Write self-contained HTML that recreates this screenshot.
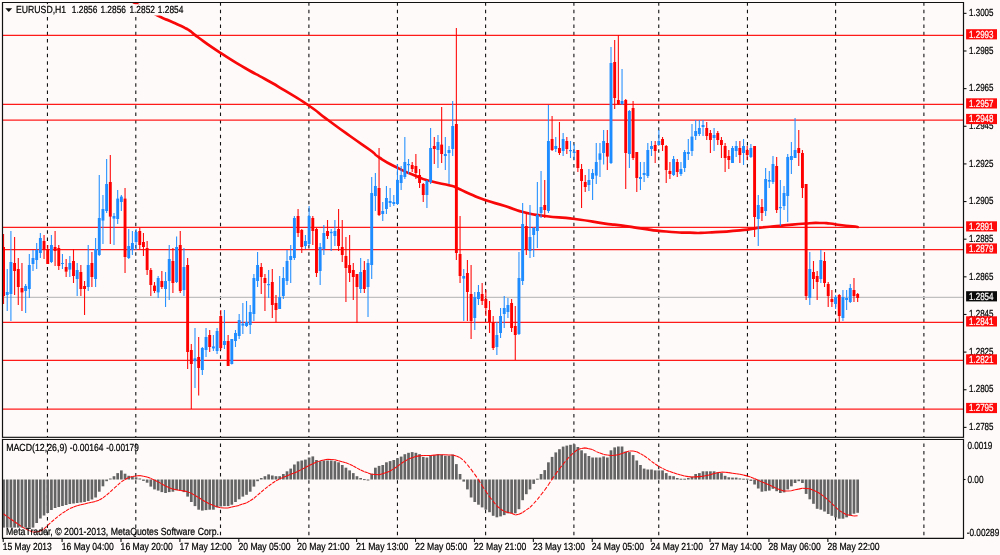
<!DOCTYPE html>
<html lang="en"><head><meta charset="utf-8"><title>EURUSD,H1</title>
<style>html,body{margin:0;padding:0;background:#fefaf9;}body{width:1000px;height:555px;overflow:hidden;}svg{will-change:transform;}svg text{text-rendering:geometricPrecision;}</style></head>
<body>
<svg width="1000" height="555" viewBox="0 0 1000 555" style="display:block">
<rect width="1000" height="555" fill="#fefaf9"/>
<defs><clipPath id="cm"><rect x="2.5" y="2.5" width="961.0" height="434.8"/></clipPath><clipPath id="ci"><rect x="2.5" y="439.4" width="961.0" height="99.0"/></clipPath></defs>
<g stroke="#141414" stroke-width="1.1" stroke-dasharray="3.5 3.85" fill="none">
<line x1="47.45" y1="2.35" x2="47.45" y2="437.3"/>
<line x1="47.45" y1="443.6" x2="47.45" y2="538.4"/>
<line x1="135.8" y1="2.35" x2="135.8" y2="437.3"/>
<line x1="135.8" y1="443.6" x2="135.8" y2="538.4"/>
<line x1="220.5" y1="2.35" x2="220.5" y2="437.3"/>
<line x1="220.5" y1="443.6" x2="220.5" y2="538.4"/>
<line x1="308.9" y1="2.35" x2="308.9" y2="437.3"/>
<line x1="308.9" y1="443.6" x2="308.9" y2="538.4"/>
<line x1="397.45" y1="2.35" x2="397.45" y2="437.3"/>
<line x1="397.45" y1="443.6" x2="397.45" y2="538.4"/>
<line x1="485.6" y1="2.35" x2="485.6" y2="437.3"/>
<line x1="485.6" y1="443.6" x2="485.6" y2="538.4"/>
<line x1="573.9" y1="2.35" x2="573.9" y2="437.3"/>
<line x1="573.9" y1="443.6" x2="573.9" y2="538.4"/>
<line x1="658.75" y1="2.35" x2="658.75" y2="437.3"/>
<line x1="658.75" y1="443.6" x2="658.75" y2="538.4"/>
<line x1="747.45" y1="2.35" x2="747.45" y2="437.3"/>
<line x1="747.45" y1="443.6" x2="747.45" y2="538.4"/>
<line x1="835.6" y1="2.35" x2="835.6" y2="437.3"/>
<line x1="835.6" y1="443.6" x2="835.6" y2="538.4"/>
<line x1="923.9" y1="2.35" x2="923.9" y2="437.3"/>
<line x1="923.9" y1="443.6" x2="923.9" y2="538.4"/>
</g>
<line x1="2.5" y1="297.3" x2="963.5" y2="297.3" stroke="#c0c0c0" stroke-width="1.2"/>
<g stroke="#ff1a1a" stroke-width="1.25">
<line x1="2.5" y1="35.30" x2="963.5" y2="35.30"/>
<line x1="2.5" y1="104.40" x2="963.5" y2="104.40"/>
<line x1="2.5" y1="120.00" x2="963.5" y2="120.00"/>
<line x1="2.5" y1="227.40" x2="963.5" y2="227.40"/>
<line x1="2.5" y1="249.50" x2="963.5" y2="249.50"/>
<line x1="2.5" y1="322.40" x2="963.5" y2="322.40"/>
<line x1="2.5" y1="360.40" x2="963.5" y2="360.40"/>
<line x1="2.5" y1="409.00" x2="963.5" y2="409.00"/>
</g>
<g clip-path="url(#cm)">
<path d="M126.00,-2.00 C129.00,-0.33 124.47,-2.83 135.00,3.00 C145.53,8.83 145.93,9.50 157.60,15.50 C169.27,21.50 162.53,17.67 170.00,21.00 C177.47,24.33 174.67,23.00 180.00,25.50 C185.33,28.00 182.17,26.33 186.00,28.50 C189.83,30.67 187.60,29.17 191.50,32.00 C195.40,34.83 188.20,30.13 197.70,37.00 C207.20,43.87 204.23,42.27 220.00,52.60 C235.77,62.93 230.00,59.20 245.00,68.00 C260.00,76.80 251.67,71.43 265.00,79.00 C278.33,86.57 270.67,82.03 285.00,90.70 C299.33,99.37 293.67,95.23 308.00,105.00 C322.33,114.77 314.00,109.67 328.00,120.00 C342.00,130.33 336.00,126.00 350.00,136.00 C364.00,146.00 360.00,142.67 370.00,150.00 C380.00,157.33 370.67,152.00 380.00,158.00 C389.33,164.00 386.00,162.00 398.00,168.00 C410.00,174.00 405.33,171.67 416.00,176.00 C426.67,180.33 418.67,177.83 430.00,181.00 C441.33,184.17 441.00,183.17 450.00,185.50 C459.00,187.83 450.33,185.17 457.00,188.00 C463.67,190.83 460.67,190.00 470.00,194.00 C479.33,198.00 473.33,196.00 485.00,200.00 C496.67,204.00 492.33,202.00 505.00,206.00 C517.67,210.00 509.67,208.67 523.00,212.00 C536.33,215.33 527.67,213.67 545.00,216.00 C562.33,218.33 555.00,216.47 575.00,219.00 C595.00,221.53 589.77,221.50 605.00,223.60 C620.23,225.70 608.80,223.73 620.70,225.30 C632.60,226.87 625.60,226.23 640.70,228.30 C655.80,230.37 649.57,230.03 666.00,231.50 C682.43,232.97 675.67,232.37 690.00,232.70 C704.33,233.03 692.33,233.27 709.00,232.50 C725.67,231.73 723.00,232.00 740.00,230.40 C757.00,228.80 746.67,229.20 760.00,227.70 C773.33,226.20 764.67,227.30 780.00,225.90 C795.33,224.50 792.67,224.47 806.00,223.50 C819.33,222.53 812.00,223.00 820.00,223.00 C828.00,223.00 823.33,222.83 830.00,223.50 C836.67,224.17 830.77,223.83 840.00,225.00 C849.23,226.17 851.80,226.33 857.70,227.00" fill="none" stroke="#f80808" stroke-width="2.7" stroke-linejoin="round" stroke-linecap="round"/>
<line x1="3.55" y1="234.0" x2="3.55" y2="304.0" stroke="#ff0000" stroke-width="1.1" stroke-opacity="0.95"/>
<rect x="2.10" y="247.0" width="2.9" height="49.00" fill="#ff0000"/>
<line x1="7.23" y1="269.0" x2="7.23" y2="311.0" stroke="#1e8cff" stroke-width="1.1" stroke-opacity="0.95"/>
<rect x="5.78" y="292.0" width="2.9" height="3.00" fill="#1e8cff"/>
<line x1="10.91" y1="231.0" x2="10.91" y2="321.0" stroke="#1e8cff" stroke-width="1.1" stroke-opacity="0.95"/>
<rect x="9.46" y="262.0" width="2.9" height="32.00" fill="#1e8cff"/>
<line x1="14.59" y1="237.0" x2="14.59" y2="295.0" stroke="#ff0000" stroke-width="1.1" stroke-opacity="0.95"/>
<rect x="13.14" y="263.0" width="2.9" height="8.00" fill="#ff0000"/>
<line x1="18.28" y1="258.0" x2="18.28" y2="305.0" stroke="#ff0000" stroke-width="1.1" stroke-opacity="0.95"/>
<rect x="16.83" y="269.0" width="2.9" height="18.00" fill="#ff0000"/>
<line x1="21.96" y1="263.0" x2="21.96" y2="311.0" stroke="#ff0000" stroke-width="1.1" stroke-opacity="0.95"/>
<rect x="20.51" y="288.0" width="2.9" height="4.40" fill="#ff0000"/>
<line x1="25.64" y1="284.0" x2="25.64" y2="313.0" stroke="#1e8cff" stroke-width="1.1" stroke-opacity="0.95"/>
<rect x="24.19" y="286.0" width="2.9" height="5.00" fill="#1e8cff"/>
<line x1="29.32" y1="254.0" x2="29.32" y2="298.0" stroke="#1e8cff" stroke-width="1.1" stroke-opacity="0.95"/>
<rect x="27.87" y="265.0" width="2.9" height="24.00" fill="#1e8cff"/>
<line x1="33.00" y1="250.0" x2="33.00" y2="271.0" stroke="#1e8cff" stroke-width="1.1" stroke-opacity="0.95"/>
<rect x="31.55" y="258.0" width="2.9" height="6.00" fill="#1e8cff"/>
<line x1="36.68" y1="243.0" x2="36.68" y2="269.0" stroke="#1e8cff" stroke-width="1.1" stroke-opacity="0.95"/>
<rect x="35.23" y="250.0" width="2.9" height="10.00" fill="#1e8cff"/>
<line x1="40.37" y1="233.0" x2="40.37" y2="258.0" stroke="#1e8cff" stroke-width="1.1" stroke-opacity="0.95"/>
<rect x="38.91" y="238.0" width="2.9" height="15.00" fill="#1e8cff"/>
<line x1="44.05" y1="235.0" x2="44.05" y2="259.0" stroke="#ff0000" stroke-width="1.1" stroke-opacity="0.95"/>
<rect x="42.60" y="241.0" width="2.9" height="9.00" fill="#ff0000"/>
<line x1="47.73" y1="245.0" x2="47.73" y2="264.0" stroke="#ff0000" stroke-width="1.1" stroke-opacity="0.95"/>
<rect x="46.28" y="249.0" width="2.9" height="15.00" fill="#ff0000"/>
<line x1="51.41" y1="235.0" x2="51.41" y2="263.0" stroke="#1e8cff" stroke-width="1.1" stroke-opacity="0.95"/>
<rect x="49.96" y="245.0" width="2.9" height="17.00" fill="#1e8cff"/>
<line x1="55.09" y1="231.0" x2="55.09" y2="266.0" stroke="#ff0000" stroke-width="1.1" stroke-opacity="0.95"/>
<rect x="53.64" y="247.0" width="2.9" height="4.00" fill="#ff0000"/>
<line x1="58.77" y1="245.0" x2="58.77" y2="270.0" stroke="#ff0000" stroke-width="1.1" stroke-opacity="0.95"/>
<rect x="57.32" y="248.0" width="2.9" height="18.00" fill="#ff0000"/>
<line x1="62.45" y1="254.0" x2="62.45" y2="269.0" stroke="#1e8cff" stroke-width="1.1" stroke-opacity="0.95"/>
<rect x="61.00" y="263.0" width="2.9" height="1.00" fill="#1e8cff"/>
<line x1="66.14" y1="259.0" x2="66.14" y2="277.0" stroke="#ff0000" stroke-width="1.1" stroke-opacity="0.95"/>
<rect x="64.69" y="267.0" width="2.9" height="4.60" fill="#ff0000"/>
<line x1="69.82" y1="256.0" x2="69.82" y2="277.0" stroke="#1e8cff" stroke-width="1.1" stroke-opacity="0.95"/>
<rect x="68.37" y="263.0" width="2.9" height="6.60" fill="#1e8cff"/>
<line x1="73.50" y1="249.0" x2="73.50" y2="283.0" stroke="#ff0000" stroke-width="1.1" stroke-opacity="0.95"/>
<rect x="72.05" y="261.0" width="2.9" height="15.00" fill="#ff0000"/>
<line x1="77.18" y1="263.0" x2="77.18" y2="296.0" stroke="#1e8cff" stroke-width="1.1" stroke-opacity="0.95"/>
<rect x="75.73" y="270.0" width="2.9" height="9.00" fill="#1e8cff"/>
<line x1="80.86" y1="265.0" x2="80.86" y2="296.0" stroke="#ff0000" stroke-width="1.1" stroke-opacity="0.95"/>
<rect x="79.41" y="272.0" width="2.9" height="17.00" fill="#ff0000"/>
<line x1="84.54" y1="281.0" x2="84.54" y2="315.0" stroke="#ff0000" stroke-width="1.1" stroke-opacity="0.95"/>
<rect x="83.09" y="286.0" width="2.9" height="3.00" fill="#ff0000"/>
<line x1="88.22" y1="245.0" x2="88.22" y2="291.0" stroke="#1e8cff" stroke-width="1.1" stroke-opacity="0.95"/>
<rect x="86.77" y="265.0" width="2.9" height="22.00" fill="#1e8cff"/>
<line x1="91.91" y1="252" x2="91.91" y2="287" stroke="#ff0000" stroke-width="1.1" stroke-opacity="0.95"/>
<rect x="90.46" y="263" width="2.9" height="14.00" fill="#ff0000"/>
<line x1="95.59" y1="238" x2="95.59" y2="287" stroke="#1e8cff" stroke-width="1.1" stroke-opacity="0.95"/>
<rect x="94.14" y="249" width="2.9" height="30.00" fill="#1e8cff"/>
<line x1="99.27" y1="175" x2="99.27" y2="256" stroke="#1e8cff" stroke-width="1.1" stroke-opacity="0.95"/>
<rect x="97.82" y="218" width="2.9" height="37.00" fill="#1e8cff"/>
<line x1="102.95" y1="195.0" x2="102.95" y2="244.0" stroke="#1e8cff" stroke-width="1.1" stroke-opacity="0.95"/>
<rect x="101.50" y="209.0" width="2.9" height="11.60" fill="#1e8cff"/>
<line x1="106.63" y1="159.0" x2="106.63" y2="213.0" stroke="#1e8cff" stroke-width="1.1" stroke-opacity="0.95"/>
<rect x="105.18" y="184.0" width="2.9" height="27.00" fill="#1e8cff"/>
<line x1="110.31" y1="155.0" x2="110.31" y2="244.0" stroke="#ff0000" stroke-width="1.1" stroke-opacity="0.95"/>
<rect x="108.86" y="182.0" width="2.9" height="34.60" fill="#ff0000"/>
<line x1="114.00" y1="213.0" x2="114.00" y2="245.0" stroke="#1e8cff" stroke-width="1.1" stroke-opacity="0.95"/>
<rect x="112.55" y="216.0" width="2.9" height="2.60" fill="#1e8cff"/>
<line x1="117.68" y1="190.0" x2="117.68" y2="224.0" stroke="#1e8cff" stroke-width="1.1" stroke-opacity="0.95"/>
<rect x="116.23" y="198.6" width="2.9" height="20.40" fill="#1e8cff"/>
<line x1="121.36" y1="195.0" x2="121.36" y2="211.0" stroke="#1e8cff" stroke-width="1.1" stroke-opacity="0.95"/>
<rect x="119.91" y="196.6" width="2.9" height="5.40" fill="#1e8cff"/>
<line x1="125.04" y1="188" x2="125.04" y2="273" stroke="#ff0000" stroke-width="1.1" stroke-opacity="0.95"/>
<rect x="123.59" y="198.6" width="2.9" height="58.40" fill="#ff0000"/>
<line x1="128.72" y1="229" x2="128.72" y2="259" stroke="#1e8cff" stroke-width="1.1" stroke-opacity="0.95"/>
<rect x="127.27" y="246" width="2.9" height="12.00" fill="#1e8cff"/>
<line x1="132.40" y1="231" x2="132.40" y2="255" stroke="#1e8cff" stroke-width="1.1" stroke-opacity="0.95"/>
<rect x="130.95" y="243" width="2.9" height="7.00" fill="#1e8cff"/>
<line x1="136.08" y1="229" x2="136.08" y2="250" stroke="#1e8cff" stroke-width="1.1" stroke-opacity="0.95"/>
<rect x="134.63" y="232" width="2.9" height="10.00" fill="#1e8cff"/>
<line x1="139.77" y1="228" x2="139.77" y2="249" stroke="#ff0000" stroke-width="1.1" stroke-opacity="0.95"/>
<rect x="138.32" y="231" width="2.9" height="14.00" fill="#ff0000"/>
<line x1="143.45" y1="233" x2="143.45" y2="256" stroke="#ff0000" stroke-width="1.1" stroke-opacity="0.95"/>
<rect x="142.00" y="242" width="2.9" height="5.00" fill="#ff0000"/>
<line x1="147.13" y1="241.0" x2="147.13" y2="275.0" stroke="#ff0000" stroke-width="1.1" stroke-opacity="0.95"/>
<rect x="145.68" y="248.0" width="2.9" height="22.00" fill="#ff0000"/>
<line x1="150.81" y1="268.0" x2="150.81" y2="296.0" stroke="#ff0000" stroke-width="1.1" stroke-opacity="0.95"/>
<rect x="149.36" y="270.0" width="2.9" height="15.00" fill="#ff0000"/>
<line x1="154.49" y1="282.0" x2="154.49" y2="293.0" stroke="#ff0000" stroke-width="1.1" stroke-opacity="0.95"/>
<rect x="153.04" y="285.6" width="2.9" height="5.40" fill="#ff0000"/>
<line x1="158.17" y1="276.0" x2="158.17" y2="298.0" stroke="#1e8cff" stroke-width="1.1" stroke-opacity="0.95"/>
<rect x="156.72" y="278.0" width="2.9" height="14.40" fill="#1e8cff"/>
<line x1="161.85" y1="271.0" x2="161.85" y2="289.0" stroke="#ff0000" stroke-width="1.1" stroke-opacity="0.95"/>
<rect x="160.40" y="281.0" width="2.9" height="6.00" fill="#ff0000"/>
<line x1="165.54" y1="272.0" x2="165.54" y2="307.0" stroke="#1e8cff" stroke-width="1.1" stroke-opacity="0.95"/>
<rect x="164.09" y="281.0" width="2.9" height="8.00" fill="#1e8cff"/>
<line x1="169.22" y1="245.0" x2="169.22" y2="300.0" stroke="#1e8cff" stroke-width="1.1" stroke-opacity="0.95"/>
<rect x="167.77" y="259.0" width="2.9" height="22.00" fill="#1e8cff"/>
<line x1="172.90" y1="248.0" x2="172.90" y2="293.0" stroke="#ff0000" stroke-width="1.1" stroke-opacity="0.95"/>
<rect x="171.45" y="261.0" width="2.9" height="22.00" fill="#ff0000"/>
<line x1="176.58" y1="236.6" x2="176.58" y2="283" stroke="#1e8cff" stroke-width="1.1" stroke-opacity="0.95"/>
<rect x="175.13" y="247" width="2.9" height="35.00" fill="#1e8cff"/>
<line x1="180.26" y1="231" x2="180.26" y2="293" stroke="#ff0000" stroke-width="1.1" stroke-opacity="0.95"/>
<rect x="178.81" y="245" width="2.9" height="46.00" fill="#ff0000"/>
<line x1="183.94" y1="248" x2="183.94" y2="296" stroke="#1e8cff" stroke-width="1.1" stroke-opacity="0.95"/>
<rect x="182.49" y="267" width="2.9" height="23.00" fill="#1e8cff"/>
<line x1="187.63" y1="258" x2="187.63" y2="369" stroke="#ff0000" stroke-width="1.1" stroke-opacity="0.95"/>
<rect x="186.18" y="265" width="2.9" height="87.00" fill="#ff0000"/>
<line x1="191.31" y1="344.0" x2="191.31" y2="409.0" stroke="#ff0000" stroke-width="1.1" stroke-opacity="0.95"/>
<rect x="189.86" y="350.0" width="2.9" height="14.00" fill="#ff0000"/>
<line x1="194.99" y1="328.0" x2="194.99" y2="388.0" stroke="#1e8cff" stroke-width="1.1" stroke-opacity="0.95"/>
<rect x="193.54" y="358.4" width="2.9" height="2.80" fill="#1e8cff"/>
<line x1="198.67" y1="337.0" x2="198.67" y2="395.6" stroke="#ff0000" stroke-width="1.1" stroke-opacity="0.95"/>
<rect x="197.22" y="357.0" width="2.9" height="11.00" fill="#ff0000"/>
<line x1="202.35" y1="347.0" x2="202.35" y2="375.0" stroke="#1e8cff" stroke-width="1.1" stroke-opacity="0.95"/>
<rect x="200.90" y="348.0" width="2.9" height="22.00" fill="#1e8cff"/>
<line x1="206.03" y1="328.0" x2="206.03" y2="357.0" stroke="#1e8cff" stroke-width="1.1" stroke-opacity="0.95"/>
<rect x="204.58" y="337.0" width="2.9" height="13.00" fill="#1e8cff"/>
<line x1="209.71" y1="330.0" x2="209.71" y2="352.0" stroke="#ff0000" stroke-width="1.1" stroke-opacity="0.95"/>
<rect x="208.26" y="335.0" width="2.9" height="12.00" fill="#ff0000"/>
<line x1="213.40" y1="335.0" x2="213.40" y2="351.0" stroke="#1e8cff" stroke-width="1.1" stroke-opacity="0.95"/>
<rect x="211.95" y="346.4" width="2.9" height="2.00" fill="#1e8cff"/>
<line x1="217.08" y1="328.0" x2="217.08" y2="354.0" stroke="#1e8cff" stroke-width="1.1" stroke-opacity="0.95"/>
<rect x="215.63" y="331.0" width="2.9" height="20.00" fill="#1e8cff"/>
<line x1="220.76" y1="310.0" x2="220.76" y2="350.0" stroke="#ff0000" stroke-width="1.1" stroke-opacity="0.95"/>
<rect x="219.31" y="316.0" width="2.9" height="32.00" fill="#ff0000"/>
<line x1="224.44" y1="310.0" x2="224.44" y2="349.0" stroke="#1e8cff" stroke-width="1.1" stroke-opacity="0.95"/>
<rect x="222.99" y="341.0" width="2.9" height="4.00" fill="#1e8cff"/>
<line x1="228.12" y1="335.0" x2="228.12" y2="366.0" stroke="#ff0000" stroke-width="1.1" stroke-opacity="0.95"/>
<rect x="226.67" y="341.0" width="2.9" height="25.00" fill="#ff0000"/>
<line x1="231.80" y1="339.0" x2="231.80" y2="364.4" stroke="#1e8cff" stroke-width="1.1" stroke-opacity="0.95"/>
<rect x="230.35" y="339.0" width="2.9" height="25.00" fill="#1e8cff"/>
<line x1="235.48" y1="330.0" x2="235.48" y2="347.0" stroke="#1e8cff" stroke-width="1.1" stroke-opacity="0.95"/>
<rect x="234.03" y="333.0" width="2.9" height="8.00" fill="#1e8cff"/>
<line x1="239.17" y1="314.0" x2="239.17" y2="339.0" stroke="#1e8cff" stroke-width="1.1" stroke-opacity="0.95"/>
<rect x="237.72" y="320.0" width="2.9" height="16.00" fill="#1e8cff"/>
<line x1="242.85" y1="303.0" x2="242.85" y2="334.0" stroke="#1e8cff" stroke-width="1.1" stroke-opacity="0.95"/>
<rect x="241.40" y="323.6" width="2.9" height="2.00" fill="#1e8cff"/>
<line x1="246.53" y1="301.0" x2="246.53" y2="327.0" stroke="#1e8cff" stroke-width="1.1" stroke-opacity="0.95"/>
<rect x="245.08" y="322.0" width="2.9" height="4.00" fill="#1e8cff"/>
<line x1="250.21" y1="305.0" x2="250.21" y2="334.0" stroke="#1e8cff" stroke-width="1.1" stroke-opacity="0.95"/>
<rect x="248.76" y="312.0" width="2.9" height="13.00" fill="#1e8cff"/>
<line x1="253.89" y1="274" x2="253.89" y2="321" stroke="#1e8cff" stroke-width="1.1" stroke-opacity="0.95"/>
<rect x="252.44" y="278" width="2.9" height="36.00" fill="#1e8cff"/>
<line x1="257.57" y1="252.0" x2="257.57" y2="287.0" stroke="#1e8cff" stroke-width="1.1" stroke-opacity="0.95"/>
<rect x="256.12" y="265.0" width="2.9" height="16.00" fill="#1e8cff"/>
<line x1="261.26" y1="263.0" x2="261.26" y2="294.0" stroke="#ff0000" stroke-width="1.1" stroke-opacity="0.95"/>
<rect x="259.81" y="267.0" width="2.9" height="10.00" fill="#ff0000"/>
<line x1="264.94" y1="274.0" x2="264.94" y2="311.0" stroke="#ff0000" stroke-width="1.1" stroke-opacity="0.95"/>
<rect x="263.49" y="278.0" width="2.9" height="5.00" fill="#ff0000"/>
<line x1="268.62" y1="270.0" x2="268.62" y2="298.0" stroke="#1e8cff" stroke-width="1.1" stroke-opacity="0.95"/>
<rect x="267.17" y="284.0" width="2.9" height="1.20" fill="#1e8cff"/>
<line x1="272.30" y1="269.0" x2="272.30" y2="318.0" stroke="#ff0000" stroke-width="1.1" stroke-opacity="0.95"/>
<rect x="270.85" y="282.0" width="2.9" height="23.00" fill="#ff0000"/>
<line x1="275.98" y1="295.0" x2="275.98" y2="322.0" stroke="#ff0000" stroke-width="1.1" stroke-opacity="0.95"/>
<rect x="274.53" y="303.0" width="2.9" height="7.00" fill="#ff0000"/>
<line x1="279.66" y1="276.0" x2="279.66" y2="309.0" stroke="#1e8cff" stroke-width="1.1" stroke-opacity="0.95"/>
<rect x="278.21" y="297.0" width="2.9" height="12.00" fill="#1e8cff"/>
<line x1="283.34" y1="267.0" x2="283.34" y2="299.0" stroke="#1e8cff" stroke-width="1.1" stroke-opacity="0.95"/>
<rect x="281.89" y="278.0" width="2.9" height="18.00" fill="#1e8cff"/>
<line x1="287.03" y1="250.0" x2="287.03" y2="285.0" stroke="#1e8cff" stroke-width="1.1" stroke-opacity="0.95"/>
<rect x="285.58" y="261.0" width="2.9" height="20.00" fill="#1e8cff"/>
<line x1="290.71" y1="245.0" x2="290.71" y2="283.0" stroke="#1e8cff" stroke-width="1.1" stroke-opacity="0.95"/>
<rect x="289.26" y="256.0" width="2.9" height="4.00" fill="#1e8cff"/>
<line x1="294.39" y1="216.0" x2="294.39" y2="260.0" stroke="#1e8cff" stroke-width="1.1" stroke-opacity="0.95"/>
<rect x="292.94" y="218.0" width="2.9" height="40.00" fill="#1e8cff"/>
<line x1="298.07" y1="209.0" x2="298.07" y2="237.0" stroke="#ff0000" stroke-width="1.1" stroke-opacity="0.95"/>
<rect x="296.62" y="216.0" width="2.9" height="17.00" fill="#ff0000"/>
<line x1="301.75" y1="229.0" x2="301.75" y2="253.0" stroke="#ff0000" stroke-width="1.1" stroke-opacity="0.95"/>
<rect x="300.30" y="230.0" width="2.9" height="17.00" fill="#ff0000"/>
<line x1="305.43" y1="235.0" x2="305.43" y2="249.0" stroke="#1e8cff" stroke-width="1.1" stroke-opacity="0.95"/>
<rect x="303.98" y="241.0" width="2.9" height="5.00" fill="#1e8cff"/>
<line x1="309.11" y1="206.0" x2="309.11" y2="246.0" stroke="#1e8cff" stroke-width="1.1" stroke-opacity="0.95"/>
<rect x="307.66" y="216.0" width="2.9" height="28.00" fill="#1e8cff"/>
<line x1="312.80" y1="216.0" x2="312.80" y2="245.0" stroke="#ff0000" stroke-width="1.1" stroke-opacity="0.95"/>
<rect x="311.35" y="218.0" width="2.9" height="13.00" fill="#ff0000"/>
<line x1="316.48" y1="228.0" x2="316.48" y2="277.0" stroke="#ff0000" stroke-width="1.1" stroke-opacity="0.95"/>
<rect x="315.03" y="229.0" width="2.9" height="44.00" fill="#ff0000"/>
<line x1="320.16" y1="243.0" x2="320.16" y2="285.0" stroke="#1e8cff" stroke-width="1.1" stroke-opacity="0.95"/>
<rect x="318.71" y="247.0" width="2.9" height="24.00" fill="#1e8cff"/>
<line x1="323.84" y1="225.0" x2="323.84" y2="255.0" stroke="#1e8cff" stroke-width="1.1" stroke-opacity="0.95"/>
<rect x="322.39" y="233.0" width="2.9" height="16.00" fill="#1e8cff"/>
<line x1="327.52" y1="220.0" x2="327.52" y2="239.0" stroke="#ff0000" stroke-width="1.1" stroke-opacity="0.95"/>
<rect x="326.07" y="231.0" width="2.9" height="5.00" fill="#ff0000"/>
<line x1="331.20" y1="229.0" x2="331.20" y2="251.0" stroke="#1e8cff" stroke-width="1.1" stroke-opacity="0.95"/>
<rect x="329.75" y="231.8" width="2.9" height="1.40" fill="#1e8cff"/>
<line x1="334.89" y1="220.0" x2="334.89" y2="246.0" stroke="#1e8cff" stroke-width="1.1" stroke-opacity="0.95"/>
<rect x="333.44" y="231.0" width="2.9" height="5.00" fill="#1e8cff"/>
<line x1="338.57" y1="209.0" x2="338.57" y2="251.0" stroke="#ff0000" stroke-width="1.1" stroke-opacity="0.95"/>
<rect x="337.12" y="229.0" width="2.9" height="17.00" fill="#ff0000"/>
<line x1="342.25" y1="220.0" x2="342.25" y2="262.0" stroke="#ff0000" stroke-width="1.1" stroke-opacity="0.95"/>
<rect x="340.80" y="247.0" width="2.9" height="8.00" fill="#ff0000"/>
<line x1="345.93" y1="237.0" x2="345.93" y2="302.0" stroke="#ff0000" stroke-width="1.1" stroke-opacity="0.95"/>
<rect x="344.48" y="256.0" width="2.9" height="12.00" fill="#ff0000"/>
<line x1="349.61" y1="235.0" x2="349.61" y2="282.0" stroke="#ff0000" stroke-width="1.1" stroke-opacity="0.95"/>
<rect x="348.16" y="265.0" width="2.9" height="8.00" fill="#ff0000"/>
<line x1="353.29" y1="263.0" x2="353.29" y2="300.0" stroke="#ff0000" stroke-width="1.1" stroke-opacity="0.95"/>
<rect x="351.84" y="270.0" width="2.9" height="7.00" fill="#ff0000"/>
<line x1="356.97" y1="274.0" x2="356.97" y2="323.0" stroke="#ff0000" stroke-width="1.1" stroke-opacity="0.95"/>
<rect x="355.52" y="274.0" width="2.9" height="13.00" fill="#ff0000"/>
<line x1="360.66" y1="258.0" x2="360.66" y2="293.0" stroke="#1e8cff" stroke-width="1.1" stroke-opacity="0.95"/>
<rect x="359.21" y="272.0" width="2.9" height="17.00" fill="#1e8cff"/>
<line x1="364.34" y1="261.0" x2="364.34" y2="293.0" stroke="#ff0000" stroke-width="1.1" stroke-opacity="0.95"/>
<rect x="362.89" y="270.0" width="2.9" height="19.00" fill="#ff0000"/>
<line x1="368.02" y1="259.0" x2="368.02" y2="317.0" stroke="#1e8cff" stroke-width="1.1" stroke-opacity="0.95"/>
<rect x="366.57" y="263.0" width="2.9" height="24.00" fill="#1e8cff"/>
<line x1="371.70" y1="177" x2="371.70" y2="279" stroke="#1e8cff" stroke-width="1.1" stroke-opacity="0.95"/>
<rect x="370.25" y="193" width="2.9" height="72.00" fill="#1e8cff"/>
<line x1="375.38" y1="173.0" x2="375.38" y2="211.0" stroke="#1e8cff" stroke-width="1.1" stroke-opacity="0.95"/>
<rect x="373.93" y="186.0" width="2.9" height="10.00" fill="#1e8cff"/>
<line x1="379.06" y1="148.0" x2="379.06" y2="216.0" stroke="#ff0000" stroke-width="1.1" stroke-opacity="0.95"/>
<rect x="377.61" y="188.0" width="2.9" height="27.00" fill="#ff0000"/>
<line x1="382.74" y1="202.0" x2="382.74" y2="221.0" stroke="#1e8cff" stroke-width="1.1" stroke-opacity="0.95"/>
<rect x="381.29" y="211.0" width="2.9" height="3.00" fill="#1e8cff"/>
<line x1="386.43" y1="186.0" x2="386.43" y2="214.0" stroke="#1e8cff" stroke-width="1.1" stroke-opacity="0.95"/>
<rect x="384.98" y="198.0" width="2.9" height="11.00" fill="#1e8cff"/>
<line x1="390.11" y1="188.0" x2="390.11" y2="207.0" stroke="#1e8cff" stroke-width="1.1" stroke-opacity="0.95"/>
<rect x="388.66" y="201.0" width="2.9" height="2.00" fill="#1e8cff"/>
<line x1="393.79" y1="195.0" x2="393.79" y2="206.0" stroke="#1e8cff" stroke-width="1.1" stroke-opacity="0.95"/>
<rect x="392.34" y="202.0" width="2.9" height="2.00" fill="#1e8cff"/>
<line x1="397.47" y1="164.0" x2="397.47" y2="205.0" stroke="#1e8cff" stroke-width="1.1" stroke-opacity="0.95"/>
<rect x="396.02" y="180.0" width="2.9" height="24.00" fill="#1e8cff"/>
<line x1="401.15" y1="166.0" x2="401.15" y2="190.0" stroke="#1e8cff" stroke-width="1.1" stroke-opacity="0.95"/>
<rect x="399.70" y="175.0" width="2.9" height="8.00" fill="#1e8cff"/>
<line x1="404.83" y1="137.0" x2="404.83" y2="179.0" stroke="#1e8cff" stroke-width="1.1" stroke-opacity="0.95"/>
<rect x="403.38" y="162.0" width="2.9" height="15.00" fill="#1e8cff"/>
<line x1="408.52" y1="159.0" x2="408.52" y2="174.0" stroke="#1e8cff" stroke-width="1.1" stroke-opacity="0.95"/>
<rect x="407.07" y="164.0" width="2.9" height="1.20" fill="#1e8cff"/>
<line x1="412.20" y1="162.0" x2="412.20" y2="172.0" stroke="#ff0000" stroke-width="1.1" stroke-opacity="0.95"/>
<rect x="410.75" y="165.0" width="2.9" height="4.00" fill="#ff0000"/>
<line x1="415.88" y1="154.0" x2="415.88" y2="179.0" stroke="#ff0000" stroke-width="1.1" stroke-opacity="0.95"/>
<rect x="414.43" y="166.0" width="2.9" height="7.00" fill="#ff0000"/>
<line x1="419.56" y1="169.0" x2="419.56" y2="188.0" stroke="#ff0000" stroke-width="1.1" stroke-opacity="0.95"/>
<rect x="418.11" y="175.0" width="2.9" height="8.00" fill="#ff0000"/>
<line x1="423.24" y1="183.0" x2="423.24" y2="202.0" stroke="#ff0000" stroke-width="1.1" stroke-opacity="0.95"/>
<rect x="421.79" y="184.0" width="2.9" height="11.00" fill="#ff0000"/>
<line x1="426.92" y1="180.0" x2="426.92" y2="208.0" stroke="#1e8cff" stroke-width="1.1" stroke-opacity="0.95"/>
<rect x="425.47" y="181.0" width="2.9" height="14.00" fill="#1e8cff"/>
<line x1="430.60" y1="128.0" x2="430.60" y2="184.0" stroke="#1e8cff" stroke-width="1.1" stroke-opacity="0.95"/>
<rect x="429.15" y="148.0" width="2.9" height="34.00" fill="#1e8cff"/>
<line x1="434.29" y1="137.0" x2="434.29" y2="164.0" stroke="#ff0000" stroke-width="1.1" stroke-opacity="0.95"/>
<rect x="432.84" y="146.0" width="2.9" height="3.00" fill="#ff0000"/>
<line x1="437.97" y1="135.0" x2="437.97" y2="168.0" stroke="#1e8cff" stroke-width="1.1" stroke-opacity="0.95"/>
<rect x="436.52" y="142.0" width="2.9" height="8.00" fill="#1e8cff"/>
<line x1="441.65" y1="107" x2="441.65" y2="163" stroke="#ff0000" stroke-width="1.1" stroke-opacity="0.95"/>
<rect x="440.20" y="144.6" width="2.9" height="9.40" fill="#ff0000"/>
<line x1="445.33" y1="137" x2="445.33" y2="170" stroke="#1e8cff" stroke-width="1.1" stroke-opacity="0.95"/>
<rect x="443.88" y="154" width="2.9" height="2.00" fill="#1e8cff"/>
<line x1="449.01" y1="146" x2="449.01" y2="184" stroke="#1e8cff" stroke-width="1.1" stroke-opacity="0.95"/>
<rect x="447.56" y="150" width="2.9" height="3.00" fill="#1e8cff"/>
<line x1="452.69" y1="101" x2="452.69" y2="156" stroke="#1e8cff" stroke-width="1.1" stroke-opacity="0.95"/>
<rect x="451.24" y="126" width="2.9" height="23.00" fill="#1e8cff"/>
<line x1="456.37" y1="28" x2="456.37" y2="260" stroke="#ff0000" stroke-width="1.1" stroke-opacity="0.95"/>
<rect x="454.92" y="124" width="2.9" height="129.00" fill="#ff0000"/>
<line x1="460.06" y1="216.0" x2="460.06" y2="283.0" stroke="#ff0000" stroke-width="1.1" stroke-opacity="0.95"/>
<rect x="458.61" y="254.0" width="2.9" height="22.00" fill="#ff0000"/>
<line x1="463.74" y1="269.0" x2="463.74" y2="321.0" stroke="#1e8cff" stroke-width="1.1" stroke-opacity="0.95"/>
<rect x="462.29" y="276.0" width="2.9" height="2.60" fill="#1e8cff"/>
<line x1="467.42" y1="260.0" x2="467.42" y2="321.0" stroke="#ff0000" stroke-width="1.1" stroke-opacity="0.95"/>
<rect x="465.97" y="273.0" width="2.9" height="19.00" fill="#ff0000"/>
<line x1="471.10" y1="265.0" x2="471.10" y2="339.0" stroke="#ff0000" stroke-width="1.1" stroke-opacity="0.95"/>
<rect x="469.65" y="294.0" width="2.9" height="27.00" fill="#ff0000"/>
<line x1="474.78" y1="292.0" x2="474.78" y2="330.0" stroke="#1e8cff" stroke-width="1.1" stroke-opacity="0.95"/>
<rect x="473.33" y="297.0" width="2.9" height="21.00" fill="#1e8cff"/>
<line x1="478.46" y1="285.0" x2="478.46" y2="305.0" stroke="#1e8cff" stroke-width="1.1" stroke-opacity="0.95"/>
<rect x="477.01" y="292.0" width="2.9" height="7.00" fill="#1e8cff"/>
<line x1="482.15" y1="283.0" x2="482.15" y2="305.0" stroke="#ff0000" stroke-width="1.1" stroke-opacity="0.95"/>
<rect x="480.70" y="294.0" width="2.9" height="7.00" fill="#ff0000"/>
<line x1="485.83" y1="290.0" x2="485.83" y2="316.0" stroke="#ff0000" stroke-width="1.1" stroke-opacity="0.95"/>
<rect x="484.38" y="299.0" width="2.9" height="9.00" fill="#ff0000"/>
<line x1="489.51" y1="301.0" x2="489.51" y2="333.0" stroke="#ff0000" stroke-width="1.1" stroke-opacity="0.95"/>
<rect x="488.06" y="310.0" width="2.9" height="12.00" fill="#ff0000"/>
<line x1="493.19" y1="316.0" x2="493.19" y2="350.0" stroke="#ff0000" stroke-width="1.1" stroke-opacity="0.95"/>
<rect x="491.74" y="322.0" width="2.9" height="26.00" fill="#ff0000"/>
<line x1="496.87" y1="322.0" x2="496.87" y2="355.0" stroke="#1e8cff" stroke-width="1.1" stroke-opacity="0.95"/>
<rect x="495.42" y="335.0" width="2.9" height="12.00" fill="#1e8cff"/>
<line x1="500.55" y1="308.0" x2="500.55" y2="338.0" stroke="#1e8cff" stroke-width="1.1" stroke-opacity="0.95"/>
<rect x="499.10" y="316.0" width="2.9" height="17.00" fill="#1e8cff"/>
<line x1="504.23" y1="296.0" x2="504.23" y2="328.0" stroke="#1e8cff" stroke-width="1.1" stroke-opacity="0.95"/>
<rect x="502.78" y="308.0" width="2.9" height="6.00" fill="#1e8cff"/>
<line x1="507.92" y1="298.0" x2="507.92" y2="318.0" stroke="#1e8cff" stroke-width="1.1" stroke-opacity="0.95"/>
<rect x="506.47" y="305.0" width="2.9" height="7.00" fill="#1e8cff"/>
<line x1="511.60" y1="299.0" x2="511.60" y2="332.0" stroke="#ff0000" stroke-width="1.1" stroke-opacity="0.95"/>
<rect x="510.15" y="303.0" width="2.9" height="25.00" fill="#ff0000"/>
<line x1="515.28" y1="306.0" x2="515.28" y2="360.0" stroke="#ff0000" stroke-width="1.1" stroke-opacity="0.95"/>
<rect x="513.83" y="326.0" width="2.9" height="9.00" fill="#ff0000"/>
<line x1="518.96" y1="252" x2="518.96" y2="335" stroke="#1e8cff" stroke-width="1.1" stroke-opacity="0.95"/>
<rect x="517.51" y="278" width="2.9" height="56.00" fill="#1e8cff"/>
<line x1="522.64" y1="203.0" x2="522.64" y2="285.0" stroke="#1e8cff" stroke-width="1.1" stroke-opacity="0.95"/>
<rect x="521.19" y="224.0" width="2.9" height="57.00" fill="#1e8cff"/>
<line x1="526.32" y1="213.0" x2="526.32" y2="255.0" stroke="#ff0000" stroke-width="1.1" stroke-opacity="0.95"/>
<rect x="524.87" y="226.0" width="2.9" height="24.00" fill="#ff0000"/>
<line x1="530.00" y1="205.0" x2="530.00" y2="258.0" stroke="#1e8cff" stroke-width="1.1" stroke-opacity="0.95"/>
<rect x="528.55" y="237.0" width="2.9" height="14.00" fill="#1e8cff"/>
<line x1="533.69" y1="227.0" x2="533.69" y2="257.0" stroke="#1e8cff" stroke-width="1.1" stroke-opacity="0.95"/>
<rect x="532.24" y="228.0" width="2.9" height="7.00" fill="#1e8cff"/>
<line x1="537.37" y1="182.0" x2="537.37" y2="248.0" stroke="#1e8cff" stroke-width="1.1" stroke-opacity="0.95"/>
<rect x="535.92" y="215.0" width="2.9" height="16.00" fill="#1e8cff"/>
<line x1="541.05" y1="171" x2="541.05" y2="218" stroke="#1e8cff" stroke-width="1.1" stroke-opacity="0.95"/>
<rect x="539.60" y="207" width="2.9" height="6.00" fill="#1e8cff"/>
<line x1="544.73" y1="180" x2="544.73" y2="218" stroke="#ff0000" stroke-width="1.1" stroke-opacity="0.95"/>
<rect x="543.28" y="205" width="2.9" height="5.00" fill="#ff0000"/>
<line x1="548.41" y1="105" x2="548.41" y2="213" stroke="#1e8cff" stroke-width="1.1" stroke-opacity="0.95"/>
<rect x="546.96" y="141" width="2.9" height="70.00" fill="#1e8cff"/>
<line x1="552.09" y1="116.0" x2="552.09" y2="151.0" stroke="#ff0000" stroke-width="1.1" stroke-opacity="0.95"/>
<rect x="550.64" y="139.0" width="2.9" height="11.00" fill="#ff0000"/>
<line x1="555.77" y1="137.0" x2="555.77" y2="152.0" stroke="#1e8cff" stroke-width="1.1" stroke-opacity="0.95"/>
<rect x="554.32" y="146.0" width="2.9" height="3.00" fill="#1e8cff"/>
<line x1="559.46" y1="122.0" x2="559.46" y2="155.0" stroke="#ff0000" stroke-width="1.1" stroke-opacity="0.95"/>
<rect x="558.01" y="148.0" width="2.9" height="5.00" fill="#ff0000"/>
<line x1="563.14" y1="133.0" x2="563.14" y2="156.0" stroke="#1e8cff" stroke-width="1.1" stroke-opacity="0.95"/>
<rect x="561.69" y="139.0" width="2.9" height="12.00" fill="#1e8cff"/>
<line x1="566.82" y1="137.0" x2="566.82" y2="154.0" stroke="#ff0000" stroke-width="1.1" stroke-opacity="0.95"/>
<rect x="565.37" y="141.0" width="2.9" height="8.00" fill="#ff0000"/>
<line x1="570.50" y1="141.0" x2="570.50" y2="158.0" stroke="#1e8cff" stroke-width="1.1" stroke-opacity="0.95"/>
<rect x="569.05" y="150.0" width="2.9" height="1.20" fill="#1e8cff"/>
<line x1="574.18" y1="144.0" x2="574.18" y2="160.0" stroke="#1e8cff" stroke-width="1.1" stroke-opacity="0.95"/>
<rect x="572.73" y="151.6" width="2.9" height="1.40" fill="#1e8cff"/>
<line x1="577.86" y1="150.0" x2="577.86" y2="172.0" stroke="#ff0000" stroke-width="1.1" stroke-opacity="0.95"/>
<rect x="576.41" y="150.0" width="2.9" height="18.00" fill="#ff0000"/>
<line x1="581.55" y1="164.0" x2="581.55" y2="208.0" stroke="#ff0000" stroke-width="1.1" stroke-opacity="0.95"/>
<rect x="580.10" y="169.0" width="2.9" height="12.00" fill="#ff0000"/>
<line x1="585.23" y1="175.0" x2="585.23" y2="192.0" stroke="#ff0000" stroke-width="1.1" stroke-opacity="0.95"/>
<rect x="583.78" y="182.0" width="2.9" height="5.00" fill="#ff0000"/>
<line x1="588.91" y1="169.0" x2="588.91" y2="191.0" stroke="#1e8cff" stroke-width="1.1" stroke-opacity="0.95"/>
<rect x="587.46" y="180.0" width="2.9" height="5.00" fill="#1e8cff"/>
<line x1="592.59" y1="169.0" x2="592.59" y2="200.0" stroke="#1e8cff" stroke-width="1.1" stroke-opacity="0.95"/>
<rect x="591.14" y="173.0" width="2.9" height="6.00" fill="#1e8cff"/>
<line x1="596.27" y1="143.0" x2="596.27" y2="184.0" stroke="#1e8cff" stroke-width="1.1" stroke-opacity="0.95"/>
<rect x="594.82" y="162.0" width="2.9" height="13.60" fill="#1e8cff"/>
<line x1="599.95" y1="143.0" x2="599.95" y2="177.0" stroke="#1e8cff" stroke-width="1.1" stroke-opacity="0.95"/>
<rect x="598.50" y="153.4" width="2.9" height="6.40" fill="#1e8cff"/>
<line x1="603.63" y1="130.0" x2="603.63" y2="164.4" stroke="#1e8cff" stroke-width="1.1" stroke-opacity="0.95"/>
<rect x="602.18" y="141.0" width="2.9" height="12.00" fill="#1e8cff"/>
<line x1="607.32" y1="130.0" x2="607.32" y2="170.0" stroke="#ff0000" stroke-width="1.1" stroke-opacity="0.95"/>
<rect x="605.87" y="143.0" width="2.9" height="13.60" fill="#ff0000"/>
<line x1="611.00" y1="47" x2="611.00" y2="164" stroke="#1e8cff" stroke-width="1.1" stroke-opacity="0.95"/>
<rect x="609.55" y="63" width="2.9" height="100.00" fill="#1e8cff"/>
<line x1="614.68" y1="40" x2="614.68" y2="109" stroke="#ff0000" stroke-width="1.1" stroke-opacity="0.95"/>
<rect x="613.23" y="62" width="2.9" height="36.00" fill="#ff0000"/>
<line x1="618.36" y1="35" x2="618.36" y2="105" stroke="#ff0000" stroke-width="1.1" stroke-opacity="0.95"/>
<rect x="616.91" y="100" width="2.9" height="4.00" fill="#ff0000"/>
<line x1="622.04" y1="69" x2="622.04" y2="105" stroke="#1e8cff" stroke-width="1.1" stroke-opacity="0.95"/>
<rect x="620.59" y="101" width="2.9" height="3.00" fill="#1e8cff"/>
<line x1="625.72" y1="99" x2="625.72" y2="189" stroke="#ff0000" stroke-width="1.1" stroke-opacity="0.95"/>
<rect x="624.27" y="100" width="2.9" height="53.00" fill="#ff0000"/>
<line x1="629.40" y1="110" x2="629.40" y2="168" stroke="#1e8cff" stroke-width="1.1" stroke-opacity="0.95"/>
<rect x="627.95" y="111" width="2.9" height="43.00" fill="#1e8cff"/>
<line x1="633.09" y1="101" x2="633.09" y2="160" stroke="#ff0000" stroke-width="1.1" stroke-opacity="0.95"/>
<rect x="631.64" y="108" width="2.9" height="50.00" fill="#ff0000"/>
<line x1="636.77" y1="152.0" x2="636.77" y2="192.0" stroke="#ff0000" stroke-width="1.1" stroke-opacity="0.95"/>
<rect x="635.32" y="152.0" width="2.9" height="26.00" fill="#ff0000"/>
<line x1="640.45" y1="162.0" x2="640.45" y2="190.0" stroke="#1e8cff" stroke-width="1.1" stroke-opacity="0.95"/>
<rect x="639.00" y="177.0" width="2.9" height="2.00" fill="#1e8cff"/>
<line x1="644.13" y1="162.0" x2="644.13" y2="182.0" stroke="#1e8cff" stroke-width="1.1" stroke-opacity="0.95"/>
<rect x="642.68" y="173.0" width="2.9" height="2.00" fill="#1e8cff"/>
<line x1="647.81" y1="143.0" x2="647.81" y2="178.0" stroke="#1e8cff" stroke-width="1.1" stroke-opacity="0.95"/>
<rect x="646.36" y="150.0" width="2.9" height="26.00" fill="#1e8cff"/>
<line x1="651.49" y1="141.0" x2="651.49" y2="156.0" stroke="#1e8cff" stroke-width="1.1" stroke-opacity="0.95"/>
<rect x="650.04" y="146.0" width="2.9" height="3.00" fill="#1e8cff"/>
<line x1="655.18" y1="141.0" x2="655.18" y2="163.0" stroke="#ff0000" stroke-width="1.1" stroke-opacity="0.95"/>
<rect x="653.73" y="145.0" width="2.9" height="6.00" fill="#ff0000"/>
<line x1="658.86" y1="130.0" x2="658.86" y2="145.0" stroke="#1e8cff" stroke-width="1.1" stroke-opacity="0.95"/>
<rect x="657.41" y="141.0" width="2.9" height="4.00" fill="#1e8cff"/>
<line x1="662.54" y1="137.0" x2="662.54" y2="151.0" stroke="#ff0000" stroke-width="1.1" stroke-opacity="0.95"/>
<rect x="661.09" y="139.0" width="2.9" height="6.00" fill="#ff0000"/>
<line x1="666.22" y1="145.0" x2="666.22" y2="183.0" stroke="#ff0000" stroke-width="1.1" stroke-opacity="0.95"/>
<rect x="664.77" y="146.0" width="2.9" height="24.00" fill="#ff0000"/>
<line x1="669.90" y1="162.0" x2="669.90" y2="179.0" stroke="#ff0000" stroke-width="1.1" stroke-opacity="0.95"/>
<rect x="668.45" y="171.0" width="2.9" height="3.00" fill="#ff0000"/>
<line x1="673.58" y1="156.0" x2="673.58" y2="176.0" stroke="#1e8cff" stroke-width="1.1" stroke-opacity="0.95"/>
<rect x="672.13" y="159.0" width="2.9" height="16.00" fill="#1e8cff"/>
<line x1="677.26" y1="159.0" x2="677.26" y2="177.0" stroke="#ff0000" stroke-width="1.1" stroke-opacity="0.95"/>
<rect x="675.81" y="162.0" width="2.9" height="10.00" fill="#ff0000"/>
<line x1="680.95" y1="162.0" x2="680.95" y2="176.0" stroke="#1e8cff" stroke-width="1.1" stroke-opacity="0.95"/>
<rect x="679.50" y="169.0" width="2.9" height="5.00" fill="#1e8cff"/>
<line x1="684.63" y1="150.0" x2="684.63" y2="172.0" stroke="#1e8cff" stroke-width="1.1" stroke-opacity="0.95"/>
<rect x="683.18" y="152.0" width="2.9" height="16.00" fill="#1e8cff"/>
<line x1="688.31" y1="139.0" x2="688.31" y2="160.0" stroke="#1e8cff" stroke-width="1.1" stroke-opacity="0.95"/>
<rect x="686.86" y="152.0" width="2.9" height="2.00" fill="#1e8cff"/>
<line x1="691.99" y1="124.0" x2="691.99" y2="156.0" stroke="#1e8cff" stroke-width="1.1" stroke-opacity="0.95"/>
<rect x="690.54" y="136.6" width="2.9" height="14.40" fill="#1e8cff"/>
<line x1="695.67" y1="120.0" x2="695.67" y2="140.0" stroke="#1e8cff" stroke-width="1.1" stroke-opacity="0.95"/>
<rect x="694.22" y="131.0" width="2.9" height="5.00" fill="#1e8cff"/>
<line x1="699.35" y1="120.0" x2="699.35" y2="136.0" stroke="#1e8cff" stroke-width="1.1" stroke-opacity="0.95"/>
<rect x="697.90" y="128.0" width="2.9" height="6.00" fill="#1e8cff"/>
<line x1="703.03" y1="120.0" x2="703.03" y2="136.0" stroke="#1e8cff" stroke-width="1.1" stroke-opacity="0.95"/>
<rect x="701.58" y="125.0" width="2.9" height="2.00" fill="#1e8cff"/>
<line x1="706.72" y1="122.0" x2="706.72" y2="140.0" stroke="#ff0000" stroke-width="1.1" stroke-opacity="0.95"/>
<rect x="705.27" y="128.0" width="2.9" height="8.00" fill="#ff0000"/>
<line x1="710.40" y1="130.0" x2="710.40" y2="153.0" stroke="#ff0000" stroke-width="1.1" stroke-opacity="0.95"/>
<rect x="708.95" y="133.0" width="2.9" height="7.00" fill="#ff0000"/>
<line x1="714.08" y1="128.0" x2="714.08" y2="151.0" stroke="#1e8cff" stroke-width="1.1" stroke-opacity="0.95"/>
<rect x="712.63" y="135.0" width="2.9" height="3.00" fill="#1e8cff"/>
<line x1="717.76" y1="131.0" x2="717.76" y2="145.0" stroke="#ff0000" stroke-width="1.1" stroke-opacity="0.95"/>
<rect x="716.31" y="133.0" width="2.9" height="7.00" fill="#ff0000"/>
<line x1="721.44" y1="137.0" x2="721.44" y2="158.0" stroke="#ff0000" stroke-width="1.1" stroke-opacity="0.95"/>
<rect x="719.99" y="140.0" width="2.9" height="5.00" fill="#ff0000"/>
<line x1="725.12" y1="143.0" x2="725.12" y2="172.0" stroke="#ff0000" stroke-width="1.1" stroke-opacity="0.95"/>
<rect x="723.67" y="146.0" width="2.9" height="12.00" fill="#ff0000"/>
<line x1="728.81" y1="150.0" x2="728.81" y2="169.0" stroke="#ff0000" stroke-width="1.1" stroke-opacity="0.95"/>
<rect x="727.36" y="156.0" width="2.9" height="4.00" fill="#ff0000"/>
<line x1="732.49" y1="146.0" x2="732.49" y2="163.0" stroke="#1e8cff" stroke-width="1.1" stroke-opacity="0.95"/>
<rect x="731.04" y="148.0" width="2.9" height="15.00" fill="#1e8cff"/>
<line x1="736.17" y1="141.0" x2="736.17" y2="157.0" stroke="#1e8cff" stroke-width="1.1" stroke-opacity="0.95"/>
<rect x="734.72" y="146.0" width="2.9" height="5.00" fill="#1e8cff"/>
<line x1="739.85" y1="141.0" x2="739.85" y2="163.0" stroke="#ff0000" stroke-width="1.1" stroke-opacity="0.95"/>
<rect x="738.40" y="148.0" width="2.9" height="7.00" fill="#ff0000"/>
<line x1="743.53" y1="139.0" x2="743.53" y2="165.0" stroke="#1e8cff" stroke-width="1.1" stroke-opacity="0.95"/>
<rect x="742.08" y="146.0" width="2.9" height="7.00" fill="#1e8cff"/>
<line x1="747.21" y1="146.0" x2="747.21" y2="160.0" stroke="#ff0000" stroke-width="1.1" stroke-opacity="0.95"/>
<rect x="745.76" y="150.0" width="2.9" height="5.00" fill="#ff0000"/>
<line x1="750.89" y1="144.0" x2="750.89" y2="158.0" stroke="#1e8cff" stroke-width="1.1" stroke-opacity="0.95"/>
<rect x="749.44" y="148.0" width="2.9" height="9.00" fill="#1e8cff"/>
<line x1="754.58" y1="146" x2="754.58" y2="237" stroke="#ff0000" stroke-width="1.1" stroke-opacity="0.95"/>
<rect x="753.13" y="146" width="2.9" height="71.00" fill="#ff0000"/>
<line x1="758.26" y1="195.0" x2="758.26" y2="246.0" stroke="#1e8cff" stroke-width="1.1" stroke-opacity="0.95"/>
<rect x="756.81" y="205.0" width="2.9" height="14.00" fill="#1e8cff"/>
<line x1="761.94" y1="199.0" x2="761.94" y2="221.0" stroke="#ff0000" stroke-width="1.1" stroke-opacity="0.95"/>
<rect x="760.49" y="207.0" width="2.9" height="6.00" fill="#ff0000"/>
<line x1="765.62" y1="168.0" x2="765.62" y2="216.0" stroke="#1e8cff" stroke-width="1.1" stroke-opacity="0.95"/>
<rect x="764.17" y="179.0" width="2.9" height="32.00" fill="#1e8cff"/>
<line x1="769.30" y1="171.0" x2="769.30" y2="188.0" stroke="#1e8cff" stroke-width="1.1" stroke-opacity="0.95"/>
<rect x="767.85" y="180.0" width="2.9" height="1.60" fill="#1e8cff"/>
<line x1="772.98" y1="156.0" x2="772.98" y2="184.0" stroke="#1e8cff" stroke-width="1.1" stroke-opacity="0.95"/>
<rect x="771.53" y="164.0" width="2.9" height="18.00" fill="#1e8cff"/>
<line x1="776.66" y1="157.0" x2="776.66" y2="213.0" stroke="#ff0000" stroke-width="1.1" stroke-opacity="0.95"/>
<rect x="775.21" y="166.0" width="2.9" height="44.00" fill="#ff0000"/>
<line x1="780.35" y1="180.0" x2="780.35" y2="226.0" stroke="#1e8cff" stroke-width="1.1" stroke-opacity="0.95"/>
<rect x="778.90" y="207.0" width="2.9" height="1.20" fill="#1e8cff"/>
<line x1="784.03" y1="186.0" x2="784.03" y2="210.0" stroke="#1e8cff" stroke-width="1.1" stroke-opacity="0.95"/>
<rect x="782.58" y="193.0" width="2.9" height="13.00" fill="#1e8cff"/>
<line x1="787.71" y1="154.0" x2="787.71" y2="222.0" stroke="#1e8cff" stroke-width="1.1" stroke-opacity="0.95"/>
<rect x="786.26" y="157.0" width="2.9" height="39.00" fill="#1e8cff"/>
<line x1="791.39" y1="142.0" x2="791.39" y2="174.0" stroke="#1e8cff" stroke-width="1.1" stroke-opacity="0.95"/>
<rect x="789.94" y="156.0" width="2.9" height="4.00" fill="#1e8cff"/>
<line x1="795.07" y1="118.0" x2="795.07" y2="158.0" stroke="#1e8cff" stroke-width="1.1" stroke-opacity="0.95"/>
<rect x="793.62" y="150.0" width="2.9" height="8.00" fill="#1e8cff"/>
<line x1="798.75" y1="130.0" x2="798.75" y2="166.0" stroke="#ff0000" stroke-width="1.1" stroke-opacity="0.95"/>
<rect x="797.30" y="148.0" width="2.9" height="5.00" fill="#ff0000"/>
<line x1="802.44" y1="150.0" x2="802.44" y2="198.0" stroke="#ff0000" stroke-width="1.1" stroke-opacity="0.95"/>
<rect x="800.99" y="153.0" width="2.9" height="35.00" fill="#ff0000"/>
<line x1="806.12" y1="184" x2="806.12" y2="300" stroke="#ff0000" stroke-width="1.1" stroke-opacity="0.95"/>
<rect x="804.67" y="184" width="2.9" height="112.00" fill="#ff0000"/>
<line x1="809.80" y1="252.0" x2="809.80" y2="305.0" stroke="#1e8cff" stroke-width="1.1" stroke-opacity="0.95"/>
<rect x="808.35" y="269.0" width="2.9" height="29.00" fill="#1e8cff"/>
<line x1="813.48" y1="261.0" x2="813.48" y2="289.0" stroke="#ff0000" stroke-width="1.1" stroke-opacity="0.95"/>
<rect x="812.03" y="272.0" width="2.9" height="7.00" fill="#ff0000"/>
<line x1="817.16" y1="271.0" x2="817.16" y2="300.0" stroke="#ff0000" stroke-width="1.1" stroke-opacity="0.95"/>
<rect x="815.71" y="276.0" width="2.9" height="6.00" fill="#ff0000"/>
<line x1="820.84" y1="250.0" x2="820.84" y2="283.0" stroke="#1e8cff" stroke-width="1.1" stroke-opacity="0.95"/>
<rect x="819.39" y="260.0" width="2.9" height="19.00" fill="#1e8cff"/>
<line x1="824.52" y1="252.0" x2="824.52" y2="287.0" stroke="#ff0000" stroke-width="1.1" stroke-opacity="0.95"/>
<rect x="823.07" y="261.0" width="2.9" height="22.00" fill="#ff0000"/>
<line x1="828.21" y1="282.0" x2="828.21" y2="307.0" stroke="#ff0000" stroke-width="1.1" stroke-opacity="0.95"/>
<rect x="826.76" y="284.0" width="2.9" height="12.00" fill="#ff0000"/>
<line x1="831.89" y1="290.0" x2="831.89" y2="307.0" stroke="#ff0000" stroke-width="1.1" stroke-opacity="0.95"/>
<rect x="830.44" y="299.0" width="2.9" height="3.00" fill="#ff0000"/>
<line x1="835.57" y1="295.0" x2="835.57" y2="309.0" stroke="#1e8cff" stroke-width="1.1" stroke-opacity="0.95"/>
<rect x="834.12" y="297.0" width="2.9" height="7.00" fill="#1e8cff"/>
<line x1="839.25" y1="294.0" x2="839.25" y2="322.0" stroke="#ff0000" stroke-width="1.1" stroke-opacity="0.95"/>
<rect x="837.80" y="295.0" width="2.9" height="21.00" fill="#ff0000"/>
<line x1="842.93" y1="290.0" x2="842.93" y2="321.0" stroke="#1e8cff" stroke-width="1.1" stroke-opacity="0.95"/>
<rect x="841.48" y="297.0" width="2.9" height="21.00" fill="#1e8cff"/>
<line x1="846.61" y1="290.0" x2="846.61" y2="310.0" stroke="#1e8cff" stroke-width="1.1" stroke-opacity="0.95"/>
<rect x="845.16" y="298.0" width="2.9" height="2.00" fill="#1e8cff"/>
<line x1="850.29" y1="284.0" x2="850.29" y2="303.0" stroke="#1e8cff" stroke-width="1.1" stroke-opacity="0.95"/>
<rect x="848.84" y="288.0" width="2.9" height="14.00" fill="#1e8cff"/>
<line x1="853.98" y1="278.0" x2="853.98" y2="302.0" stroke="#ff0000" stroke-width="1.1" stroke-opacity="0.95"/>
<rect x="852.53" y="290.0" width="2.9" height="6.00" fill="#ff0000"/>
<line x1="857.66" y1="293.0" x2="857.66" y2="302.0" stroke="#ff0000" stroke-width="1.1" stroke-opacity="0.95"/>
<rect x="856.21" y="294.0" width="2.9" height="4.00" fill="#ff0000"/>
</g>
<g clip-path="url(#ci)">
<rect x="2.20" y="479.50" width="2.7" height="48.10" fill="#646464"/>
<rect x="5.88" y="479.50" width="2.7" height="48.10" fill="#646464"/>
<rect x="9.56" y="479.50" width="2.7" height="48.10" fill="#646464"/>
<rect x="13.24" y="479.50" width="2.7" height="48.10" fill="#646464"/>
<rect x="16.93" y="479.50" width="2.7" height="48.10" fill="#646464"/>
<rect x="20.61" y="479.50" width="2.7" height="48.10" fill="#646464"/>
<rect x="24.29" y="479.50" width="2.7" height="48.10" fill="#646464"/>
<rect x="27.97" y="479.50" width="2.7" height="48.10" fill="#646464"/>
<rect x="31.65" y="479.50" width="2.7" height="48.10" fill="#646464"/>
<rect x="35.33" y="479.50" width="2.7" height="43.50" fill="#646464"/>
<rect x="39.02" y="479.50" width="2.7" height="39.00" fill="#646464"/>
<rect x="42.70" y="479.50" width="2.7" height="36.00" fill="#646464"/>
<rect x="46.38" y="479.50" width="2.7" height="33.50" fill="#646464"/>
<rect x="50.06" y="479.50" width="2.7" height="30.50" fill="#646464"/>
<rect x="53.74" y="479.50" width="2.7" height="28.50" fill="#646464"/>
<rect x="57.42" y="479.50" width="2.7" height="27.50" fill="#646464"/>
<rect x="61.10" y="479.50" width="2.7" height="26.50" fill="#646464"/>
<rect x="64.79" y="479.50" width="2.7" height="25.50" fill="#646464"/>
<rect x="68.47" y="479.50" width="2.7" height="24.50" fill="#646464"/>
<rect x="72.15" y="479.50" width="2.7" height="24.00" fill="#646464"/>
<rect x="75.83" y="479.50" width="2.7" height="23.50" fill="#646464"/>
<rect x="79.51" y="479.50" width="2.7" height="23.00" fill="#646464"/>
<rect x="83.19" y="479.50" width="2.7" height="22.50" fill="#646464"/>
<rect x="86.87" y="479.50" width="2.7" height="21.50" fill="#646464"/>
<rect x="90.56" y="479.50" width="2.7" height="20.00" fill="#646464"/>
<rect x="94.24" y="479.50" width="2.7" height="18.00" fill="#646464"/>
<rect x="97.92" y="479.50" width="2.7" height="12.20" fill="#646464"/>
<rect x="101.60" y="479.50" width="2.7" height="6.80" fill="#646464"/>
<rect x="105.28" y="479.50" width="2.7" height="1.70" fill="#646464"/>
<rect x="108.96" y="478.50" width="2.7" height="1.00" fill="#646464"/>
<rect x="112.65" y="476.20" width="2.7" height="3.30" fill="#646464"/>
<rect x="116.33" y="473.10" width="2.7" height="6.40" fill="#646464"/>
<rect x="120.01" y="470.40" width="2.7" height="9.10" fill="#646464"/>
<rect x="123.69" y="473.70" width="2.7" height="5.80" fill="#646464"/>
<rect x="127.37" y="475.80" width="2.7" height="3.70" fill="#646464"/>
<rect x="131.05" y="476.70" width="2.7" height="2.80" fill="#646464"/>
<rect x="134.73" y="477.30" width="2.7" height="2.20" fill="#646464"/>
<rect x="138.42" y="478.50" width="2.7" height="1.00" fill="#646464"/>
<rect x="142.10" y="479.50" width="2.7" height="1.40" fill="#646464"/>
<rect x="145.78" y="479.50" width="2.7" height="3.20" fill="#646464"/>
<rect x="149.46" y="479.50" width="2.7" height="7.10" fill="#646464"/>
<rect x="153.14" y="479.50" width="2.7" height="9.90" fill="#646464"/>
<rect x="156.82" y="479.50" width="2.7" height="11.10" fill="#646464"/>
<rect x="160.50" y="479.50" width="2.7" height="12.60" fill="#646464"/>
<rect x="164.19" y="479.50" width="2.7" height="13.50" fill="#646464"/>
<rect x="167.87" y="479.50" width="2.7" height="12.60" fill="#646464"/>
<rect x="171.55" y="479.50" width="2.7" height="12.20" fill="#646464"/>
<rect x="175.23" y="479.50" width="2.7" height="10.80" fill="#646464"/>
<rect x="178.91" y="479.50" width="2.7" height="10.80" fill="#646464"/>
<rect x="182.59" y="479.50" width="2.7" height="12.60" fill="#646464"/>
<rect x="186.28" y="479.50" width="2.7" height="17.10" fill="#646464"/>
<rect x="189.96" y="479.50" width="2.7" height="22.50" fill="#646464"/>
<rect x="193.64" y="479.50" width="2.7" height="26.60" fill="#646464"/>
<rect x="197.32" y="479.50" width="2.7" height="30.20" fill="#646464"/>
<rect x="201.00" y="479.50" width="2.7" height="31.10" fill="#646464"/>
<rect x="204.68" y="479.50" width="2.7" height="30.60" fill="#646464"/>
<rect x="208.36" y="479.50" width="2.7" height="30.20" fill="#646464"/>
<rect x="212.05" y="479.50" width="2.7" height="30.20" fill="#646464"/>
<rect x="215.73" y="479.50" width="2.7" height="27.90" fill="#646464"/>
<rect x="219.41" y="479.50" width="2.7" height="27.00" fill="#646464"/>
<rect x="223.09" y="479.50" width="2.7" height="26.60" fill="#646464"/>
<rect x="226.77" y="479.50" width="2.7" height="26.60" fill="#646464"/>
<rect x="230.45" y="479.50" width="2.7" height="25.20" fill="#646464"/>
<rect x="234.13" y="479.50" width="2.7" height="22.50" fill="#646464"/>
<rect x="237.82" y="479.50" width="2.7" height="19.80" fill="#646464"/>
<rect x="241.50" y="479.50" width="2.7" height="17.10" fill="#646464"/>
<rect x="245.18" y="479.50" width="2.7" height="15.30" fill="#646464"/>
<rect x="248.86" y="479.50" width="2.7" height="12.20" fill="#646464"/>
<rect x="252.54" y="479.50" width="2.7" height="7.10" fill="#646464"/>
<rect x="256.22" y="479.50" width="2.7" height="1.70" fill="#646464"/>
<rect x="259.91" y="478.00" width="2.7" height="1.50" fill="#646464"/>
<rect x="263.59" y="476.20" width="2.7" height="3.30" fill="#646464"/>
<rect x="267.27" y="474.40" width="2.7" height="5.10" fill="#646464"/>
<rect x="270.95" y="475.50" width="2.7" height="4.00" fill="#646464"/>
<rect x="274.63" y="476.20" width="2.7" height="3.30" fill="#646464"/>
<rect x="278.31" y="476.20" width="2.7" height="3.30" fill="#646464"/>
<rect x="281.99" y="474.00" width="2.7" height="5.50" fill="#646464"/>
<rect x="285.68" y="471.30" width="2.7" height="8.20" fill="#646464"/>
<rect x="289.36" y="468.60" width="2.7" height="10.90" fill="#646464"/>
<rect x="293.04" y="464.50" width="2.7" height="15.00" fill="#646464"/>
<rect x="296.72" y="461.40" width="2.7" height="18.10" fill="#646464"/>
<rect x="300.40" y="460.50" width="2.7" height="19.00" fill="#646464"/>
<rect x="304.08" y="459.60" width="2.7" height="19.90" fill="#646464"/>
<rect x="307.76" y="457.50" width="2.7" height="22.00" fill="#646464"/>
<rect x="311.45" y="456.40" width="2.7" height="23.10" fill="#646464"/>
<rect x="315.13" y="460.00" width="2.7" height="19.50" fill="#646464"/>
<rect x="318.81" y="461.10" width="2.7" height="18.40" fill="#646464"/>
<rect x="322.49" y="460.50" width="2.7" height="19.00" fill="#646464"/>
<rect x="326.17" y="460.50" width="2.7" height="19.00" fill="#646464"/>
<rect x="329.85" y="460.50" width="2.7" height="19.00" fill="#646464"/>
<rect x="333.54" y="461.10" width="2.7" height="18.40" fill="#646464"/>
<rect x="337.22" y="462.30" width="2.7" height="17.20" fill="#646464"/>
<rect x="340.90" y="465.00" width="2.7" height="14.50" fill="#646464"/>
<rect x="344.58" y="467.70" width="2.7" height="11.80" fill="#646464"/>
<rect x="348.26" y="470.40" width="2.7" height="9.10" fill="#646464"/>
<rect x="351.94" y="473.10" width="2.7" height="6.40" fill="#646464"/>
<rect x="355.62" y="476.20" width="2.7" height="3.30" fill="#646464"/>
<rect x="359.31" y="478.00" width="2.7" height="1.50" fill="#646464"/>
<rect x="362.99" y="479.10" width="2.7" height="1.00" fill="#646464"/>
<rect x="366.67" y="479.50" width="2.7" height="1.00" fill="#646464"/>
<rect x="370.35" y="473.70" width="2.7" height="5.80" fill="#646464"/>
<rect x="374.03" y="467.70" width="2.7" height="11.80" fill="#646464"/>
<rect x="377.71" y="465.90" width="2.7" height="13.60" fill="#646464"/>
<rect x="381.39" y="465.00" width="2.7" height="14.50" fill="#646464"/>
<rect x="385.08" y="462.30" width="2.7" height="17.20" fill="#646464"/>
<rect x="388.76" y="461.10" width="2.7" height="18.40" fill="#646464"/>
<rect x="392.44" y="460.00" width="2.7" height="19.50" fill="#646464"/>
<rect x="396.12" y="458.20" width="2.7" height="21.30" fill="#646464"/>
<rect x="399.80" y="456.60" width="2.7" height="22.90" fill="#646464"/>
<rect x="403.48" y="454.20" width="2.7" height="25.30" fill="#646464"/>
<rect x="407.17" y="452.80" width="2.7" height="26.70" fill="#646464"/>
<rect x="410.85" y="452.10" width="2.7" height="27.40" fill="#646464"/>
<rect x="414.53" y="452.80" width="2.7" height="26.70" fill="#646464"/>
<rect x="418.21" y="454.20" width="2.7" height="25.30" fill="#646464"/>
<rect x="421.89" y="456.90" width="2.7" height="22.60" fill="#646464"/>
<rect x="425.57" y="457.50" width="2.7" height="22.00" fill="#646464"/>
<rect x="429.25" y="455.70" width="2.7" height="23.80" fill="#646464"/>
<rect x="432.94" y="455.10" width="2.7" height="24.40" fill="#646464"/>
<rect x="436.62" y="454.20" width="2.7" height="25.30" fill="#646464"/>
<rect x="440.30" y="454.60" width="2.7" height="24.90" fill="#646464"/>
<rect x="443.98" y="455.70" width="2.7" height="23.80" fill="#646464"/>
<rect x="447.66" y="455.70" width="2.7" height="23.80" fill="#646464"/>
<rect x="451.34" y="454.60" width="2.7" height="24.90" fill="#646464"/>
<rect x="455.02" y="464.10" width="2.7" height="15.40" fill="#646464"/>
<rect x="458.71" y="474.00" width="2.7" height="5.50" fill="#646464"/>
<rect x="462.39" y="479.50" width="2.7" height="2.10" fill="#646464"/>
<rect x="466.07" y="479.50" width="2.7" height="9.90" fill="#646464"/>
<rect x="469.75" y="479.50" width="2.7" height="18.00" fill="#646464"/>
<rect x="473.43" y="479.50" width="2.7" height="22.50" fill="#646464"/>
<rect x="477.11" y="479.50" width="2.7" height="25.20" fill="#646464"/>
<rect x="480.80" y="479.50" width="2.7" height="27.90" fill="#646464"/>
<rect x="484.48" y="479.50" width="2.7" height="30.20" fill="#646464"/>
<rect x="488.16" y="479.50" width="2.7" height="32.70" fill="#646464"/>
<rect x="491.84" y="479.50" width="2.7" height="36.30" fill="#646464"/>
<rect x="495.52" y="479.50" width="2.7" height="37.80" fill="#646464"/>
<rect x="499.20" y="479.50" width="2.7" height="36.90" fill="#646464"/>
<rect x="502.88" y="479.50" width="2.7" height="35.60" fill="#646464"/>
<rect x="506.57" y="479.50" width="2.7" height="33.80" fill="#646464"/>
<rect x="510.25" y="479.50" width="2.7" height="33.80" fill="#646464"/>
<rect x="513.93" y="479.50" width="2.7" height="33.80" fill="#646464"/>
<rect x="517.61" y="479.50" width="2.7" height="29.70" fill="#646464"/>
<rect x="521.29" y="479.50" width="2.7" height="20.70" fill="#646464"/>
<rect x="524.97" y="479.50" width="2.7" height="14.70" fill="#646464"/>
<rect x="528.65" y="479.50" width="2.7" height="9.90" fill="#646464"/>
<rect x="532.34" y="479.50" width="2.7" height="4.40" fill="#646464"/>
<rect x="536.02" y="478.70" width="2.7" height="1.00" fill="#646464"/>
<rect x="539.70" y="474.00" width="2.7" height="5.50" fill="#646464"/>
<rect x="543.38" y="470.10" width="2.7" height="9.40" fill="#646464"/>
<rect x="547.06" y="462.30" width="2.7" height="17.20" fill="#646464"/>
<rect x="550.74" y="456.90" width="2.7" height="22.60" fill="#646464"/>
<rect x="554.42" y="452.40" width="2.7" height="27.10" fill="#646464"/>
<rect x="558.11" y="449.20" width="2.7" height="30.30" fill="#646464"/>
<rect x="561.79" y="446.60" width="2.7" height="32.90" fill="#646464"/>
<rect x="565.47" y="445.60" width="2.7" height="33.90" fill="#646464"/>
<rect x="569.15" y="444.80" width="2.7" height="34.70" fill="#646464"/>
<rect x="572.83" y="444.30" width="2.7" height="35.20" fill="#646464"/>
<rect x="576.51" y="447.00" width="2.7" height="32.50" fill="#646464"/>
<rect x="580.20" y="450.30" width="2.7" height="29.20" fill="#646464"/>
<rect x="583.88" y="453.30" width="2.7" height="26.20" fill="#646464"/>
<rect x="587.56" y="456.00" width="2.7" height="23.50" fill="#646464"/>
<rect x="591.24" y="457.50" width="2.7" height="22.00" fill="#646464"/>
<rect x="594.92" y="457.50" width="2.7" height="22.00" fill="#646464"/>
<rect x="598.60" y="457.50" width="2.7" height="22.00" fill="#646464"/>
<rect x="602.28" y="456.40" width="2.7" height="23.10" fill="#646464"/>
<rect x="605.97" y="457.50" width="2.7" height="22.00" fill="#646464"/>
<rect x="609.65" y="450.30" width="2.7" height="29.20" fill="#646464"/>
<rect x="613.33" y="447.40" width="2.7" height="32.10" fill="#646464"/>
<rect x="617.01" y="446.50" width="2.7" height="33.00" fill="#646464"/>
<rect x="620.69" y="446.50" width="2.7" height="33.00" fill="#646464"/>
<rect x="624.37" y="451.50" width="2.7" height="28.00" fill="#646464"/>
<rect x="628.05" y="452.10" width="2.7" height="27.40" fill="#646464"/>
<rect x="631.74" y="455.10" width="2.7" height="24.40" fill="#646464"/>
<rect x="635.42" y="460.50" width="2.7" height="19.00" fill="#646464"/>
<rect x="639.10" y="465.00" width="2.7" height="14.50" fill="#646464"/>
<rect x="642.78" y="468.60" width="2.7" height="10.90" fill="#646464"/>
<rect x="646.46" y="469.50" width="2.7" height="10.00" fill="#646464"/>
<rect x="650.14" y="469.50" width="2.7" height="10.00" fill="#646464"/>
<rect x="653.83" y="470.40" width="2.7" height="9.10" fill="#646464"/>
<rect x="657.51" y="470.40" width="2.7" height="9.10" fill="#646464"/>
<rect x="661.19" y="470.40" width="2.7" height="9.10" fill="#646464"/>
<rect x="664.87" y="473.10" width="2.7" height="6.40" fill="#646464"/>
<rect x="668.55" y="475.80" width="2.7" height="3.70" fill="#646464"/>
<rect x="672.23" y="476.20" width="2.7" height="3.30" fill="#646464"/>
<rect x="675.91" y="478.00" width="2.7" height="1.50" fill="#646464"/>
<rect x="679.60" y="478.70" width="2.7" height="1.00" fill="#646464"/>
<rect x="683.28" y="478.70" width="2.7" height="1.00" fill="#646464"/>
<rect x="686.96" y="478.00" width="2.7" height="1.50" fill="#646464"/>
<rect x="690.64" y="476.70" width="2.7" height="2.80" fill="#646464"/>
<rect x="694.32" y="474.00" width="2.7" height="5.50" fill="#646464"/>
<rect x="698.00" y="473.10" width="2.7" height="6.40" fill="#646464"/>
<rect x="701.68" y="471.30" width="2.7" height="8.20" fill="#646464"/>
<rect x="705.37" y="471.30" width="2.7" height="8.20" fill="#646464"/>
<rect x="709.05" y="471.30" width="2.7" height="8.20" fill="#646464"/>
<rect x="712.73" y="471.30" width="2.7" height="8.20" fill="#646464"/>
<rect x="716.41" y="472.20" width="2.7" height="7.30" fill="#646464"/>
<rect x="720.09" y="473.10" width="2.7" height="6.40" fill="#646464"/>
<rect x="723.77" y="475.80" width="2.7" height="3.70" fill="#646464"/>
<rect x="727.46" y="477.30" width="2.7" height="2.20" fill="#646464"/>
<rect x="731.14" y="477.60" width="2.7" height="1.90" fill="#646464"/>
<rect x="734.82" y="477.60" width="2.7" height="1.90" fill="#646464"/>
<rect x="738.50" y="478.40" width="2.7" height="1.10" fill="#646464"/>
<rect x="742.18" y="478.70" width="2.7" height="1.00" fill="#646464"/>
<rect x="745.86" y="478.70" width="2.7" height="1.00" fill="#646464"/>
<rect x="749.54" y="479.50" width="2.7" height="1.40" fill="#646464"/>
<rect x="753.23" y="479.50" width="2.7" height="5.00" fill="#646464"/>
<rect x="756.91" y="479.50" width="2.7" height="9.00" fill="#646464"/>
<rect x="760.59" y="479.50" width="2.7" height="12.20" fill="#646464"/>
<rect x="764.27" y="479.50" width="2.7" height="11.70" fill="#646464"/>
<rect x="767.95" y="479.50" width="2.7" height="11.10" fill="#646464"/>
<rect x="771.63" y="479.50" width="2.7" height="9.30" fill="#646464"/>
<rect x="775.31" y="479.50" width="2.7" height="11.70" fill="#646464"/>
<rect x="779.00" y="479.50" width="2.7" height="13.50" fill="#646464"/>
<rect x="782.68" y="479.50" width="2.7" height="12.90" fill="#646464"/>
<rect x="786.36" y="479.50" width="2.7" height="9.90" fill="#646464"/>
<rect x="790.04" y="479.50" width="2.7" height="6.80" fill="#646464"/>
<rect x="793.72" y="479.50" width="2.7" height="3.50" fill="#646464"/>
<rect x="797.40" y="479.50" width="2.7" height="1.70" fill="#646464"/>
<rect x="801.09" y="479.50" width="2.7" height="3.50" fill="#646464"/>
<rect x="804.77" y="479.50" width="2.7" height="14.40" fill="#646464"/>
<rect x="808.45" y="479.50" width="2.7" height="19.80" fill="#646464"/>
<rect x="812.13" y="479.50" width="2.7" height="24.30" fill="#646464"/>
<rect x="815.81" y="479.50" width="2.7" height="29.30" fill="#646464"/>
<rect x="819.49" y="479.50" width="2.7" height="30.20" fill="#646464"/>
<rect x="823.17" y="479.50" width="2.7" height="32.00" fill="#646464"/>
<rect x="826.86" y="479.50" width="2.7" height="34.50" fill="#646464"/>
<rect x="830.54" y="479.50" width="2.7" height="36.30" fill="#646464"/>
<rect x="834.22" y="479.50" width="2.7" height="37.80" fill="#646464"/>
<rect x="837.90" y="479.50" width="2.7" height="39.20" fill="#646464"/>
<rect x="841.58" y="479.50" width="2.7" height="39.20" fill="#646464"/>
<rect x="845.26" y="479.50" width="2.7" height="37.80" fill="#646464"/>
<rect x="848.94" y="479.50" width="2.7" height="36.00" fill="#646464"/>
<rect x="852.63" y="479.50" width="2.7" height="34.20" fill="#646464"/>
<rect x="856.31" y="479.50" width="2.7" height="33.30" fill="#646464"/>
<path d="M3.55,513.89L7.23,516.61 M7.23,516.61L10.91,519.24 M10.91,519.24L14.59,521.73 M14.59,521.73L18.28,524.24 M18.28,524.24L21.96,526.89 M21.96,526.89L25.64,528.85 M25.64,528.85L29.32,530.62 M29.32,530.62L33.00,532.02 M33.00,532.02L36.68,532.02 M36.68,532.02L40.37,531.06 M40.37,531.06L44.05,528.83 M44.05,528.83L47.73,525.38 M47.73,525.38L51.41,521.98 M51.41,521.98L55.09,518.93 M55.09,518.93L58.77,515.84 M58.77,515.84L62.45,513.11 M62.45,513.11L66.14,510.79 M66.14,510.79L69.82,508.50 M69.82,508.50L73.50,507.07 M73.50,507.07L77.18,505.68 M77.18,505.68L80.86,504.68 M80.86,504.68L84.54,503.91 M84.54,503.91L88.22,503.02 M88.22,503.02L91.91,502.24 M91.91,502.24L95.59,501.36 M95.59,501.36L99.27,500.04 M99.27,500.04L102.95,497.86 M102.95,497.86L106.63,495.00 M106.63,495.00L110.31,491.97 M110.31,491.97L114.00,488.31 M114.00,488.31L117.68,485.13 M117.68,485.13L121.36,481.80 M121.36,481.80L125.04,479.51 M125.04,479.51L128.72,477.55 M128.72,477.55L132.40,476.51 M132.40,476.51L136.08,476.04 M136.08,476.04L139.77,475.59 M139.77,475.59L143.45,476.30 M143.45,476.30L147.13,476.97 M147.13,476.97L150.81,478.44 M150.81,478.44L154.49,480.04 M154.49,480.04L158.17,481.91 M158.17,481.91L161.85,483.93 M161.85,483.93L165.54,485.98 M165.54,485.98L169.22,487.71 M169.22,487.71L172.90,489.04 M172.90,489.04L176.58,489.80 M176.58,489.80L180.26,490.56 M180.26,490.56L183.94,490.88 M183.94,490.88L187.63,491.87 M187.63,491.87L191.31,493.23 M191.31,493.23L194.99,495.44 M194.99,495.44L198.67,497.55 M198.67,497.55L202.35,499.96 M202.35,499.96L206.03,502.02 M206.03,502.02L209.71,504.01 M209.71,504.01L213.40,505.47 M213.40,505.47L217.08,506.73 M217.08,506.73L220.76,507.84 M220.76,507.84L224.44,508.02 M224.44,508.02L228.12,508.03 M228.12,508.03L231.80,507.06 M231.80,507.06L235.48,506.31 M235.48,506.31L239.17,505.35 M239.17,505.35L242.85,504.00 M242.85,504.00L246.53,502.83 M246.53,502.83L250.21,500.70 M250.21,500.70L253.89,498.31 M253.89,498.31L257.57,495.03 M257.57,495.03L261.26,491.98 M261.26,491.98L264.94,488.81 M264.94,488.81L268.62,485.98 M268.62,485.98L272.30,483.23 M272.30,483.23L275.98,480.91 M275.98,480.91L279.66,478.89 M279.66,478.89L283.34,477.23 M283.34,477.23L287.03,475.79 M287.03,475.79L290.71,474.33 M290.71,474.33L294.39,472.92 M294.39,472.92L298.07,471.26 M298.07,471.26L301.75,469.37 M301.75,469.37L305.43,467.48 M305.43,467.48L309.11,465.49 M309.11,465.49L312.80,463.71 M312.80,463.71L316.48,462.13 M316.48,462.13L320.16,460.77 M320.16,460.77L323.84,460.03 M323.84,460.03L327.52,459.33 M327.52,459.33L331.20,459.55 M331.20,459.55L334.89,459.79 M334.89,459.79L338.57,460.81 M338.57,460.81L342.25,461.75 M342.25,461.75L345.93,462.76 M345.93,462.76L349.61,464.25 M349.61,464.25L353.29,466.02 M353.29,466.02L356.97,468.10 M356.97,468.10L360.66,469.92 M360.66,469.92L364.34,471.69 M364.34,471.69L368.02,472.95 M368.02,472.95L371.70,474.35 M371.70,474.35L375.38,474.59 M375.38,474.59L379.06,474.69 M379.06,474.69L382.74,473.79 M382.74,473.79L386.43,472.53 M386.43,472.53L390.11,471.03 M390.11,471.03L393.79,468.73 M393.79,468.73L397.47,466.33 M397.47,466.33L401.15,463.45 M401.15,463.45L404.83,461.18 M404.83,461.18L408.52,459.07 M408.52,459.07L412.20,457.73 M412.20,457.73L415.88,456.38 M415.88,456.38L419.56,455.87 M419.56,455.87L423.24,455.45 M423.24,455.45L426.92,455.55 M426.92,455.55L430.60,455.47 M430.60,455.47L434.29,455.13 M434.29,455.13L437.97,454.83 M437.97,454.83L441.65,454.73 M441.65,454.73L445.33,454.83 M445.33,454.83L449.01,455.04 M449.01,455.04L452.69,454.95 M452.69,454.95L456.37,456.02 M456.37,456.02L460.06,457.54 M460.06,457.54L463.74,460.64 M463.74,460.64L467.42,464.75 M467.42,464.75L471.10,469.43 M471.10,469.43L474.78,474.35 M474.78,474.35L478.46,479.76 M478.46,479.76L482.15,485.74 M482.15,485.74L485.83,491.22 M485.83,491.22L489.51,496.73 M489.51,496.73L493.19,501.23 M493.19,501.23L496.87,505.90 M496.87,505.90L500.55,509.04 M500.55,509.04L504.23,511.41 M504.23,511.41L507.92,512.43 M507.92,512.43L511.60,513.20 M511.60,513.20L515.28,514.94 M515.28,514.94L518.96,514.23 M518.96,514.23L522.64,512.53 M522.64,512.53L526.32,509.92 M526.32,509.92L530.00,507.41 M530.00,507.41L533.69,503.51 M533.69,503.51L537.37,499.50 M537.37,499.50L541.05,494.74 M541.05,494.74L544.73,490.05 M544.73,490.05L548.41,484.83 M548.41,484.83L552.09,479.15 M552.09,479.15L555.77,473.92 M555.77,473.92L559.46,468.76 M559.46,468.76L563.14,464.24 M563.14,464.24L566.82,459.72 M566.82,459.72L570.50,455.53 M570.50,455.53L574.18,452.23 M574.18,452.23L577.86,449.41 M577.86,449.41L581.55,448.45 M581.55,448.45L585.23,447.87 M585.23,447.87L588.91,448.72 M588.91,448.72L592.59,449.65 M592.59,449.65L596.27,451.63 M596.27,451.63L599.95,452.99 M599.95,452.99L603.63,454.40 M603.63,454.40L607.32,455.00 M607.32,455.00L611.00,455.58 M611.00,455.58L614.68,455.25 M614.68,455.25L618.36,454.66 M618.36,454.66L622.04,453.41 M622.04,453.41L625.72,452.29 M625.72,452.29L629.40,450.99 M629.40,450.99L633.09,451.04 M633.09,451.04L636.77,451.77 M636.77,451.77L640.45,453.65 M640.45,453.65L644.13,455.72 M644.13,455.72L647.81,458.37 M647.81,458.37L651.49,461.43 M651.49,461.43L655.18,464.00 M655.18,464.00L658.86,466.49 M658.86,466.49L662.54,468.37 M662.54,468.37L666.22,470.19 M666.22,470.19L669.90,471.48 M669.90,471.48L673.58,472.77 M673.58,472.77L677.26,474.02 M677.26,474.02L680.95,474.99 M680.95,474.99L684.63,476.08 M684.63,476.08L688.31,476.63 M688.31,476.63L691.99,477.00 M691.99,477.00L695.67,476.88 M695.67,476.88L699.35,476.61 M699.35,476.61L703.03,476.33 M703.03,476.33L706.72,475.56 M706.72,475.56L710.40,474.68 M710.40,474.68L714.08,473.43 M714.08,473.43L717.76,472.61 M717.76,472.61L721.44,472.14 M721.44,472.14L725.12,472.27 M725.12,472.27L728.81,472.64 M728.81,472.64L732.49,473.28 M732.49,473.28L736.17,473.79 M736.17,473.79L739.85,474.29 M739.85,474.29L743.53,475.12 M743.53,475.12L747.21,475.91 M747.21,475.91L750.89,477.19 M750.89,477.19L754.58,478.58 M754.58,478.58L758.26,480.38 M758.26,480.38L761.94,481.99 M761.94,481.99L765.62,483.42 M765.62,483.42L769.30,484.90 M769.30,484.90L772.98,486.62 M772.98,486.62L776.66,488.60 M776.66,488.60L780.35,489.85 M780.35,489.85L784.03,491.00 M784.03,491.00L787.71,491.00 M787.71,491.00L791.39,490.82 M791.39,490.82L795.07,489.72 M795.07,489.72L798.75,489.12 M798.75,489.12L802.44,488.31 M802.44,488.31L806.12,488.51 M806.12,488.51L809.80,488.80 M809.80,488.80L813.48,490.30 M813.48,490.30L817.16,491.96 M817.16,491.96L820.84,494.13 M820.84,494.13L824.52,497.00 M824.52,497.00L828.21,500.10 M828.21,500.10L831.89,503.72 M831.89,503.72L835.57,507.04 M835.57,507.04L839.25,510.48 M839.25,510.48L842.93,512.76 M842.93,512.76L846.61,514.69 M846.61,514.69L850.29,515.34 M850.29,515.34L853.98,516.05 M853.98,516.05L857.66,515.80" fill="none" stroke="#ff0a0a" stroke-width="1.05" stroke-dasharray="3.62 1.7" stroke-linecap="butt"/>
</g>
<g stroke="#111" stroke-width="1.2" fill="none">
<line x1="2.5" y1="2.0" x2="2.5" y2="538.4"/>
<line x1="963.5" y1="2.0" x2="963.5" y2="538.4"/>
<line x1="2.0" y1="2.5" x2="964.0" y2="2.5"/>
<line x1="2.0" y1="437.3" x2="964.0" y2="437.3"/>
<line x1="2.0" y1="439.4" x2="964.0" y2="439.4"/>
<line x1="2.0" y1="538.4" x2="964.0" y2="538.4"/>
</g>
<rect x="0" y="437.90000000000003" width="964.5" height="0.90" fill="#fefaf9"/>
<g>
<line x1="963.5" y1="13.35" x2="966.5" y2="13.35" stroke="#111" stroke-width="1.1"/>
<text x="969.0" y="16.05" font-family='"Liberation Sans", sans-serif' font-size="10.3" fill="#000" stroke="#000" stroke-width="0.22" text-anchor="start" textLength="24.5" lengthAdjust="spacingAndGlyphs">1.3005</text>
<line x1="963.5" y1="50.99" x2="966.5" y2="50.99" stroke="#111" stroke-width="1.1"/>
<text x="969.0" y="53.69" font-family='"Liberation Sans", sans-serif' font-size="10.3" fill="#000" stroke="#000" stroke-width="0.22" text-anchor="start" textLength="24.5" lengthAdjust="spacingAndGlyphs">1.2985</text>
<line x1="963.5" y1="88.63" x2="966.5" y2="88.63" stroke="#111" stroke-width="1.1"/>
<text x="969.0" y="91.33" font-family='"Liberation Sans", sans-serif' font-size="10.3" fill="#000" stroke="#000" stroke-width="0.22" text-anchor="start" textLength="24.5" lengthAdjust="spacingAndGlyphs">1.2965</text>
<line x1="963.5" y1="126.27" x2="966.5" y2="126.27" stroke="#111" stroke-width="1.1"/>
<text x="969.0" y="128.97" font-family='"Liberation Sans", sans-serif' font-size="10.3" fill="#000" stroke="#000" stroke-width="0.22" text-anchor="start" textLength="24.5" lengthAdjust="spacingAndGlyphs">1.2945</text>
<line x1="963.5" y1="163.91" x2="966.5" y2="163.91" stroke="#111" stroke-width="1.1"/>
<text x="969.0" y="166.61" font-family='"Liberation Sans", sans-serif' font-size="10.3" fill="#000" stroke="#000" stroke-width="0.22" text-anchor="start" textLength="24.5" lengthAdjust="spacingAndGlyphs">1.2925</text>
<line x1="963.5" y1="201.55" x2="966.5" y2="201.55" stroke="#111" stroke-width="1.1"/>
<text x="969.0" y="204.25" font-family='"Liberation Sans", sans-serif' font-size="10.3" fill="#000" stroke="#000" stroke-width="0.22" text-anchor="start" textLength="24.5" lengthAdjust="spacingAndGlyphs">1.2905</text>
<line x1="963.5" y1="239.19" x2="966.5" y2="239.19" stroke="#111" stroke-width="1.1"/>
<text x="969.0" y="241.89" font-family='"Liberation Sans", sans-serif' font-size="10.3" fill="#000" stroke="#000" stroke-width="0.22" text-anchor="start" textLength="24.5" lengthAdjust="spacingAndGlyphs">1.2885</text>
<line x1="963.5" y1="276.83" x2="966.5" y2="276.83" stroke="#111" stroke-width="1.1"/>
<text x="969.0" y="279.53" font-family='"Liberation Sans", sans-serif' font-size="10.3" fill="#000" stroke="#000" stroke-width="0.22" text-anchor="start" textLength="24.5" lengthAdjust="spacingAndGlyphs">1.2865</text>
<line x1="963.5" y1="314.47" x2="966.5" y2="314.47" stroke="#111" stroke-width="1.1"/>
<text x="969.0" y="317.17" font-family='"Liberation Sans", sans-serif' font-size="10.3" fill="#000" stroke="#000" stroke-width="0.22" text-anchor="start" textLength="24.5" lengthAdjust="spacingAndGlyphs">1.2845</text>
<line x1="963.5" y1="352.11" x2="966.5" y2="352.11" stroke="#111" stroke-width="1.1"/>
<text x="969.0" y="354.81" font-family='"Liberation Sans", sans-serif' font-size="10.3" fill="#000" stroke="#000" stroke-width="0.22" text-anchor="start" textLength="24.5" lengthAdjust="spacingAndGlyphs">1.2825</text>
<line x1="963.5" y1="389.75" x2="966.5" y2="389.75" stroke="#111" stroke-width="1.1"/>
<text x="969.0" y="392.45" font-family='"Liberation Sans", sans-serif' font-size="10.3" fill="#000" stroke="#000" stroke-width="0.22" text-anchor="start" textLength="24.5" lengthAdjust="spacingAndGlyphs">1.2805</text>
<line x1="963.5" y1="427.39" x2="966.5" y2="427.39" stroke="#111" stroke-width="1.1"/>
<text x="969.0" y="430.09" font-family='"Liberation Sans", sans-serif' font-size="10.3" fill="#000" stroke="#000" stroke-width="0.22" text-anchor="start" textLength="24.5" lengthAdjust="spacingAndGlyphs">1.2785</text>
</g>
<rect x="966.1" y="29.20" width="30.9" height="10.2" fill="#ff0a0a"/>
<text x="969.0" y="37.55" font-family='"Liberation Sans", sans-serif' font-size="10.3" fill="#fff" stroke="#fff" stroke-width="0.22" text-anchor="start" textLength="24.5" lengthAdjust="spacingAndGlyphs">1.2993</text>
<rect x="966.1" y="98.30" width="30.9" height="10.2" fill="#ff0a0a"/>
<text x="969.0" y="106.65" font-family='"Liberation Sans", sans-serif' font-size="10.3" fill="#fff" stroke="#fff" stroke-width="0.22" text-anchor="start" textLength="24.5" lengthAdjust="spacingAndGlyphs">1.2957</text>
<rect x="966.1" y="113.90" width="30.9" height="10.2" fill="#ff0a0a"/>
<text x="969.0" y="122.25" font-family='"Liberation Sans", sans-serif' font-size="10.3" fill="#fff" stroke="#fff" stroke-width="0.22" text-anchor="start" textLength="24.5" lengthAdjust="spacingAndGlyphs">1.2948</text>
<rect x="966.1" y="221.30" width="30.9" height="10.2" fill="#ff0a0a"/>
<text x="969.0" y="229.65" font-family='"Liberation Sans", sans-serif' font-size="10.3" fill="#fff" stroke="#fff" stroke-width="0.22" text-anchor="start" textLength="24.5" lengthAdjust="spacingAndGlyphs">1.2891</text>
<rect x="966.1" y="243.40" width="30.9" height="10.2" fill="#ff0a0a"/>
<text x="969.0" y="251.75" font-family='"Liberation Sans", sans-serif' font-size="10.3" fill="#fff" stroke="#fff" stroke-width="0.22" text-anchor="start" textLength="24.5" lengthAdjust="spacingAndGlyphs">1.2879</text>
<rect x="966.1" y="316.30" width="30.9" height="10.2" fill="#ff0a0a"/>
<text x="969.0" y="324.65" font-family='"Liberation Sans", sans-serif' font-size="10.3" fill="#fff" stroke="#fff" stroke-width="0.22" text-anchor="start" textLength="24.5" lengthAdjust="spacingAndGlyphs">1.2841</text>
<rect x="966.1" y="354.30" width="30.9" height="10.2" fill="#ff0a0a"/>
<text x="969.0" y="362.65" font-family='"Liberation Sans", sans-serif' font-size="10.3" fill="#fff" stroke="#fff" stroke-width="0.22" text-anchor="start" textLength="24.5" lengthAdjust="spacingAndGlyphs">1.2821</text>
<rect x="966.1" y="402.90" width="30.9" height="10.2" fill="#ff0a0a"/>
<text x="969.0" y="411.25" font-family='"Liberation Sans", sans-serif' font-size="10.3" fill="#fff" stroke="#fff" stroke-width="0.22" text-anchor="start" textLength="24.5" lengthAdjust="spacingAndGlyphs">1.2795</text>
<rect x="966.1" y="291.20" width="30.9" height="10.2" fill="#0a0a0a"/>
<text x="969.0" y="299.55" font-family='"Liberation Sans", sans-serif' font-size="10.3" fill="#fff" stroke="#fff" stroke-width="0.22" text-anchor="start" textLength="24.5" lengthAdjust="spacingAndGlyphs">1.2854</text>
<text x="967.4" y="449.0" font-family='"Liberation Sans", sans-serif' font-size="10.3" fill="#000" stroke="#000" stroke-width="0.22" text-anchor="start" textLength="25.0" lengthAdjust="spacingAndGlyphs">0.0019</text>
<line x1="963.5" y1="479.5" x2="965.5" y2="479.5" stroke="#111" stroke-width="1.1"/>
<text x="967.4" y="482.5" font-family='"Liberation Sans", sans-serif' font-size="10.3" fill="#000" stroke="#000" stroke-width="0.22" text-anchor="start" textLength="16.2" lengthAdjust="spacingAndGlyphs">0.00</text>
<text x="966.7" y="535.5" font-family='"Liberation Sans", sans-serif' font-size="10.3" fill="#000" stroke="#000" stroke-width="0.22" text-anchor="start" textLength="32.6" lengthAdjust="spacingAndGlyphs">-0.00289</text>
<line x1="3.20" y1="538.4" x2="3.20" y2="541.9" stroke="#111" stroke-width="1.1"/>
<text x="2.8" y="549.8" font-family='"Liberation Sans", sans-serif' font-size="10.3" fill="#000" stroke="#000" stroke-width="0.22" text-anchor="start" textLength="49.0" lengthAdjust="spacingAndGlyphs">15 May 2013</text>
<line x1="62.10" y1="538.4" x2="62.10" y2="541.9" stroke="#111" stroke-width="1.1"/>
<text x="61.7" y="549.8" font-family='"Liberation Sans", sans-serif' font-size="10.3" fill="#000" stroke="#000" stroke-width="0.22" text-anchor="start" textLength="52.2" lengthAdjust="spacingAndGlyphs">16 May 04:00</text>
<line x1="121.01" y1="538.4" x2="121.01" y2="541.9" stroke="#111" stroke-width="1.1"/>
<text x="120.61" y="549.8" font-family='"Liberation Sans", sans-serif' font-size="10.3" fill="#000" stroke="#000" stroke-width="0.22" text-anchor="start" textLength="52.2" lengthAdjust="spacingAndGlyphs">16 May 20:00</text>
<line x1="179.91" y1="538.4" x2="179.91" y2="541.9" stroke="#111" stroke-width="1.1"/>
<text x="179.51" y="549.8" font-family='"Liberation Sans", sans-serif' font-size="10.3" fill="#000" stroke="#000" stroke-width="0.22" text-anchor="start" textLength="52.2" lengthAdjust="spacingAndGlyphs">17 May 12:00</text>
<line x1="238.82" y1="538.4" x2="238.82" y2="541.9" stroke="#111" stroke-width="1.1"/>
<text x="238.42" y="549.8" font-family='"Liberation Sans", sans-serif' font-size="10.3" fill="#000" stroke="#000" stroke-width="0.22" text-anchor="start" textLength="52.2" lengthAdjust="spacingAndGlyphs">20 May 05:00</text>
<line x1="297.72" y1="538.4" x2="297.72" y2="541.9" stroke="#111" stroke-width="1.1"/>
<text x="297.32" y="549.8" font-family='"Liberation Sans", sans-serif' font-size="10.3" fill="#000" stroke="#000" stroke-width="0.22" text-anchor="start" textLength="52.2" lengthAdjust="spacingAndGlyphs">20 May 21:00</text>
<line x1="356.62" y1="538.4" x2="356.62" y2="541.9" stroke="#111" stroke-width="1.1"/>
<text x="356.22" y="549.8" font-family='"Liberation Sans", sans-serif' font-size="10.3" fill="#000" stroke="#000" stroke-width="0.22" text-anchor="start" textLength="52.2" lengthAdjust="spacingAndGlyphs">21 May 13:00</text>
<line x1="415.53" y1="538.4" x2="415.53" y2="541.9" stroke="#111" stroke-width="1.1"/>
<text x="415.13" y="549.8" font-family='"Liberation Sans", sans-serif' font-size="10.3" fill="#000" stroke="#000" stroke-width="0.22" text-anchor="start" textLength="52.2" lengthAdjust="spacingAndGlyphs">22 May 05:00</text>
<line x1="474.43" y1="538.4" x2="474.43" y2="541.9" stroke="#111" stroke-width="1.1"/>
<text x="474.03" y="549.8" font-family='"Liberation Sans", sans-serif' font-size="10.3" fill="#000" stroke="#000" stroke-width="0.22" text-anchor="start" textLength="52.2" lengthAdjust="spacingAndGlyphs">22 May 21:00</text>
<line x1="533.34" y1="538.4" x2="533.34" y2="541.9" stroke="#111" stroke-width="1.1"/>
<text x="532.94" y="549.8" font-family='"Liberation Sans", sans-serif' font-size="10.3" fill="#000" stroke="#000" stroke-width="0.22" text-anchor="start" textLength="52.2" lengthAdjust="spacingAndGlyphs">23 May 13:00</text>
<line x1="592.24" y1="538.4" x2="592.24" y2="541.9" stroke="#111" stroke-width="1.1"/>
<text x="591.84" y="549.8" font-family='"Liberation Sans", sans-serif' font-size="10.3" fill="#000" stroke="#000" stroke-width="0.22" text-anchor="start" textLength="52.2" lengthAdjust="spacingAndGlyphs">24 May 05:00</text>
<line x1="651.14" y1="538.4" x2="651.14" y2="541.9" stroke="#111" stroke-width="1.1"/>
<text x="650.74" y="549.8" font-family='"Liberation Sans", sans-serif' font-size="10.3" fill="#000" stroke="#000" stroke-width="0.22" text-anchor="start" textLength="52.2" lengthAdjust="spacingAndGlyphs">24 May 21:00</text>
<line x1="710.05" y1="538.4" x2="710.05" y2="541.9" stroke="#111" stroke-width="1.1"/>
<text x="709.65" y="549.8" font-family='"Liberation Sans", sans-serif' font-size="10.3" fill="#000" stroke="#000" stroke-width="0.22" text-anchor="start" textLength="52.2" lengthAdjust="spacingAndGlyphs">27 May 14:00</text>
<line x1="768.95" y1="538.4" x2="768.95" y2="541.9" stroke="#111" stroke-width="1.1"/>
<text x="768.55" y="549.8" font-family='"Liberation Sans", sans-serif' font-size="10.3" fill="#000" stroke="#000" stroke-width="0.22" text-anchor="start" textLength="52.2" lengthAdjust="spacingAndGlyphs">28 May 06:00</text>
<line x1="827.86" y1="538.4" x2="827.86" y2="541.9" stroke="#111" stroke-width="1.1"/>
<text x="827.46" y="549.8" font-family='"Liberation Sans", sans-serif' font-size="10.3" fill="#000" stroke="#000" stroke-width="0.22" text-anchor="start" textLength="52.2" lengthAdjust="spacingAndGlyphs">28 May 22:00</text>
<rect x="14.5" y="4.2" width="170" height="11.3" fill="#fefaf9"/>
<path d="M5.3 8.2 L12.2 8.2 L8.75 12 Z" fill="#111"/>
<text x="16" y="13.2" font-family='"Liberation Sans", sans-serif' font-size="10.3" fill="#000" stroke="#000" stroke-width="0.22" text-anchor="start" textLength="50.2" lengthAdjust="spacingAndGlyphs">EURUSD,H1</text>
<text x="71.8" y="13.2" font-family='"Liberation Sans", sans-serif' font-size="10.3" fill="#000" stroke="#000" stroke-width="0.22" text-anchor="start" textLength="25.6" lengthAdjust="spacingAndGlyphs">1.2856</text>
<text x="100.4" y="13.2" font-family='"Liberation Sans", sans-serif' font-size="10.3" fill="#000" stroke="#000" stroke-width="0.22" text-anchor="start" textLength="25.6" lengthAdjust="spacingAndGlyphs">1.2856</text>
<text x="129.4" y="13.2" font-family='"Liberation Sans", sans-serif' font-size="10.3" fill="#000" stroke="#000" stroke-width="0.22" text-anchor="start" textLength="25.6" lengthAdjust="spacingAndGlyphs">1.2852</text>
<text x="157.8" y="13.2" font-family='"Liberation Sans", sans-serif' font-size="10.3" fill="#000" stroke="#000" stroke-width="0.22" text-anchor="start" textLength="25.6" lengthAdjust="spacingAndGlyphs">1.2854</text>
<text x="6.2" y="450.9" font-family='"Liberation Sans", sans-serif' font-size="10.3" fill="#000" stroke="#000" stroke-width="0.22" text-anchor="start" textLength="61" lengthAdjust="spacingAndGlyphs">MACD(12,26,9)</text>
<text x="69.8" y="450.9" font-family='"Liberation Sans", sans-serif' font-size="10.3" fill="#000" stroke="#000" stroke-width="0.22" text-anchor="start" textLength="33.6" lengthAdjust="spacingAndGlyphs">-0.00164</text>
<text x="106.2" y="450.9" font-family='"Liberation Sans", sans-serif' font-size="10.3" fill="#000" stroke="#000" stroke-width="0.22" text-anchor="start" textLength="32.6" lengthAdjust="spacingAndGlyphs">-0.00179</text>
<text x="6" y="535.1" font-family='"Liberation Sans", sans-serif' font-size="10.3" fill="#000" stroke="#000" stroke-width="0.22" text-anchor="start" textLength="213" lengthAdjust="spacingAndGlyphs">MetaTrader, © 2001-2013, MetaQuotes Software Corp.</text>
</svg>
</body></html>
